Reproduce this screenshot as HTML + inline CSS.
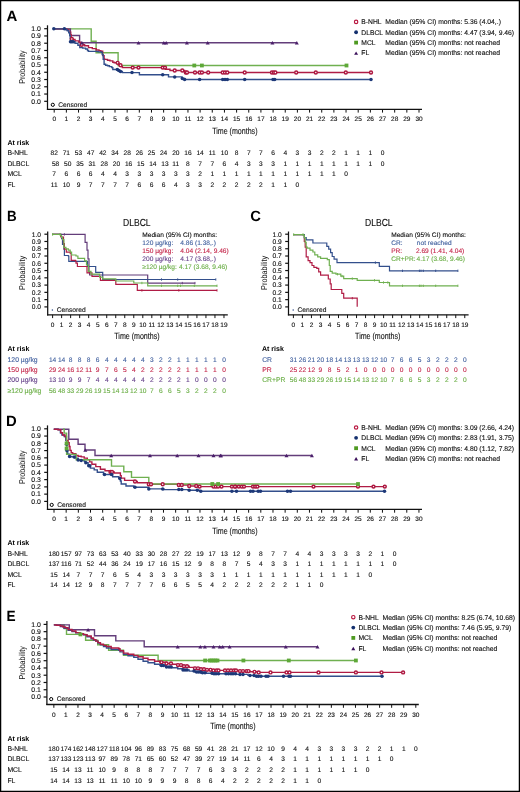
<!DOCTYPE html><html><head><meta charset="utf-8"><style>html,body{margin:0;padding:0;background:#fff;}svg{display:block;will-change:transform;}text{font-family:"Liberation Sans",sans-serif;text-rendering:geometricPrecision;}</style></head><body>
<svg width="520" height="792" viewBox="0 0 520 792">
<rect x="0" y="0" width="520" height="792" fill="#fff"/>
<g fill="#111">
<text x="6.50" y="20.90" font-size="14.8" font-weight="bold" fill="#000" textLength="10.8" lengthAdjust="spacingAndGlyphs">A</text>
<line x1="47.50" y1="25.30" x2="47.50" y2="109.90" stroke="#111" stroke-width="1.25"/>
<line x1="46.90" y1="109.30" x2="422.00" y2="109.30" stroke="#111" stroke-width="1.35"/>
<line x1="44.20" y1="101.30" x2="47.50" y2="101.30" stroke="#111" stroke-width="1.2"/>
<text x="40.90" y="103.65" font-size="6.9" text-anchor="end" stroke="#111" stroke-width="0.12">0.0</text>
<line x1="44.20" y1="94.04" x2="47.50" y2="94.04" stroke="#111" stroke-width="1.2"/>
<text x="40.90" y="96.39" font-size="6.9" text-anchor="end" stroke="#111" stroke-width="0.12">0.1</text>
<line x1="44.20" y1="86.78" x2="47.50" y2="86.78" stroke="#111" stroke-width="1.2"/>
<text x="40.90" y="89.13" font-size="6.9" text-anchor="end" stroke="#111" stroke-width="0.12">0.2</text>
<line x1="44.20" y1="79.52" x2="47.50" y2="79.52" stroke="#111" stroke-width="1.2"/>
<text x="40.90" y="81.87" font-size="6.9" text-anchor="end" stroke="#111" stroke-width="0.12">0.3</text>
<line x1="44.20" y1="72.26" x2="47.50" y2="72.26" stroke="#111" stroke-width="1.2"/>
<text x="40.90" y="74.61" font-size="6.9" text-anchor="end" stroke="#111" stroke-width="0.12">0.4</text>
<line x1="44.20" y1="65.00" x2="47.50" y2="65.00" stroke="#111" stroke-width="1.2"/>
<text x="40.90" y="67.35" font-size="6.9" text-anchor="end" stroke="#111" stroke-width="0.12">0.5</text>
<line x1="44.20" y1="57.74" x2="47.50" y2="57.74" stroke="#111" stroke-width="1.2"/>
<text x="40.90" y="60.09" font-size="6.9" text-anchor="end" stroke="#111" stroke-width="0.12">0.6</text>
<line x1="44.20" y1="50.48" x2="47.50" y2="50.48" stroke="#111" stroke-width="1.2"/>
<text x="40.90" y="52.83" font-size="6.9" text-anchor="end" stroke="#111" stroke-width="0.12">0.7</text>
<line x1="44.20" y1="43.22" x2="47.50" y2="43.22" stroke="#111" stroke-width="1.2"/>
<text x="40.90" y="45.57" font-size="6.9" text-anchor="end" stroke="#111" stroke-width="0.12">0.8</text>
<line x1="44.20" y1="35.96" x2="47.50" y2="35.96" stroke="#111" stroke-width="1.2"/>
<text x="40.90" y="38.31" font-size="6.9" text-anchor="end" stroke="#111" stroke-width="0.12">0.9</text>
<line x1="44.20" y1="28.70" x2="47.50" y2="28.70" stroke="#111" stroke-width="1.2"/>
<text x="40.90" y="31.05" font-size="6.9" text-anchor="end" stroke="#111" stroke-width="0.12">1.0</text>
<line x1="54.20" y1="109.30" x2="54.20" y2="112.60" stroke="#111" stroke-width="1.0"/>
<text x="54.20" y="121.30" font-size="6.5" text-anchor="middle" stroke="#111" stroke-width="0.12">0</text>
<line x1="66.36" y1="109.30" x2="66.36" y2="112.60" stroke="#111" stroke-width="1.0"/>
<text x="66.36" y="121.30" font-size="6.5" text-anchor="middle" stroke="#111" stroke-width="0.12">1</text>
<line x1="78.52" y1="109.30" x2="78.52" y2="112.60" stroke="#111" stroke-width="1.0"/>
<text x="78.52" y="121.30" font-size="6.5" text-anchor="middle" stroke="#111" stroke-width="0.12">2</text>
<line x1="90.68" y1="109.30" x2="90.68" y2="112.60" stroke="#111" stroke-width="1.0"/>
<text x="90.68" y="121.30" font-size="6.5" text-anchor="middle" stroke="#111" stroke-width="0.12">3</text>
<line x1="102.84" y1="109.30" x2="102.84" y2="112.60" stroke="#111" stroke-width="1.0"/>
<text x="102.84" y="121.30" font-size="6.5" text-anchor="middle" stroke="#111" stroke-width="0.12">4</text>
<line x1="115.00" y1="109.30" x2="115.00" y2="112.60" stroke="#111" stroke-width="1.0"/>
<text x="115.00" y="121.30" font-size="6.5" text-anchor="middle" stroke="#111" stroke-width="0.12">5</text>
<line x1="127.16" y1="109.30" x2="127.16" y2="112.60" stroke="#111" stroke-width="1.0"/>
<text x="127.16" y="121.30" font-size="6.5" text-anchor="middle" stroke="#111" stroke-width="0.12">6</text>
<line x1="139.32" y1="109.30" x2="139.32" y2="112.60" stroke="#111" stroke-width="1.0"/>
<text x="139.32" y="121.30" font-size="6.5" text-anchor="middle" stroke="#111" stroke-width="0.12">7</text>
<line x1="151.48" y1="109.30" x2="151.48" y2="112.60" stroke="#111" stroke-width="1.0"/>
<text x="151.48" y="121.30" font-size="6.5" text-anchor="middle" stroke="#111" stroke-width="0.12">8</text>
<line x1="163.64" y1="109.30" x2="163.64" y2="112.60" stroke="#111" stroke-width="1.0"/>
<text x="163.64" y="121.30" font-size="6.5" text-anchor="middle" stroke="#111" stroke-width="0.12">9</text>
<line x1="175.80" y1="109.30" x2="175.80" y2="112.60" stroke="#111" stroke-width="1.0"/>
<text x="175.80" y="121.30" font-size="6.5" text-anchor="middle" stroke="#111" stroke-width="0.12">10</text>
<line x1="187.96" y1="109.30" x2="187.96" y2="112.60" stroke="#111" stroke-width="1.0"/>
<text x="187.96" y="121.30" font-size="6.5" text-anchor="middle" stroke="#111" stroke-width="0.12">11</text>
<line x1="200.12" y1="109.30" x2="200.12" y2="112.60" stroke="#111" stroke-width="1.0"/>
<text x="200.12" y="121.30" font-size="6.5" text-anchor="middle" stroke="#111" stroke-width="0.12">12</text>
<line x1="212.28" y1="109.30" x2="212.28" y2="112.60" stroke="#111" stroke-width="1.0"/>
<text x="212.28" y="121.30" font-size="6.5" text-anchor="middle" stroke="#111" stroke-width="0.12">13</text>
<line x1="224.44" y1="109.30" x2="224.44" y2="112.60" stroke="#111" stroke-width="1.0"/>
<text x="224.44" y="121.30" font-size="6.5" text-anchor="middle" stroke="#111" stroke-width="0.12">14</text>
<line x1="236.60" y1="109.30" x2="236.60" y2="112.60" stroke="#111" stroke-width="1.0"/>
<text x="236.60" y="121.30" font-size="6.5" text-anchor="middle" stroke="#111" stroke-width="0.12">15</text>
<line x1="248.76" y1="109.30" x2="248.76" y2="112.60" stroke="#111" stroke-width="1.0"/>
<text x="248.76" y="121.30" font-size="6.5" text-anchor="middle" stroke="#111" stroke-width="0.12">16</text>
<line x1="260.92" y1="109.30" x2="260.92" y2="112.60" stroke="#111" stroke-width="1.0"/>
<text x="260.92" y="121.30" font-size="6.5" text-anchor="middle" stroke="#111" stroke-width="0.12">17</text>
<line x1="273.08" y1="109.30" x2="273.08" y2="112.60" stroke="#111" stroke-width="1.0"/>
<text x="273.08" y="121.30" font-size="6.5" text-anchor="middle" stroke="#111" stroke-width="0.12">18</text>
<line x1="285.24" y1="109.30" x2="285.24" y2="112.60" stroke="#111" stroke-width="1.0"/>
<text x="285.24" y="121.30" font-size="6.5" text-anchor="middle" stroke="#111" stroke-width="0.12">19</text>
<line x1="297.40" y1="109.30" x2="297.40" y2="112.60" stroke="#111" stroke-width="1.0"/>
<text x="297.40" y="121.30" font-size="6.5" text-anchor="middle" stroke="#111" stroke-width="0.12">20</text>
<line x1="309.56" y1="109.30" x2="309.56" y2="112.60" stroke="#111" stroke-width="1.0"/>
<text x="309.56" y="121.30" font-size="6.5" text-anchor="middle" stroke="#111" stroke-width="0.12">21</text>
<line x1="321.72" y1="109.30" x2="321.72" y2="112.60" stroke="#111" stroke-width="1.0"/>
<text x="321.72" y="121.30" font-size="6.5" text-anchor="middle" stroke="#111" stroke-width="0.12">22</text>
<line x1="333.88" y1="109.30" x2="333.88" y2="112.60" stroke="#111" stroke-width="1.0"/>
<text x="333.88" y="121.30" font-size="6.5" text-anchor="middle" stroke="#111" stroke-width="0.12">23</text>
<line x1="346.04" y1="109.30" x2="346.04" y2="112.60" stroke="#111" stroke-width="1.0"/>
<text x="346.04" y="121.30" font-size="6.5" text-anchor="middle" stroke="#111" stroke-width="0.12">24</text>
<line x1="358.20" y1="109.30" x2="358.20" y2="112.60" stroke="#111" stroke-width="1.0"/>
<text x="358.20" y="121.30" font-size="6.5" text-anchor="middle" stroke="#111" stroke-width="0.12">25</text>
<line x1="370.36" y1="109.30" x2="370.36" y2="112.60" stroke="#111" stroke-width="1.0"/>
<text x="370.36" y="121.30" font-size="6.5" text-anchor="middle" stroke="#111" stroke-width="0.12">26</text>
<line x1="382.52" y1="109.30" x2="382.52" y2="112.60" stroke="#111" stroke-width="1.0"/>
<text x="382.52" y="121.30" font-size="6.5" text-anchor="middle" stroke="#111" stroke-width="0.12">27</text>
<line x1="394.68" y1="109.30" x2="394.68" y2="112.60" stroke="#111" stroke-width="1.0"/>
<text x="394.68" y="121.30" font-size="6.5" text-anchor="middle" stroke="#111" stroke-width="0.12">28</text>
<line x1="406.84" y1="109.30" x2="406.84" y2="112.60" stroke="#111" stroke-width="1.0"/>
<text x="406.84" y="121.30" font-size="6.5" text-anchor="middle" stroke="#111" stroke-width="0.12">29</text>
<line x1="419.00" y1="109.30" x2="419.00" y2="112.60" stroke="#111" stroke-width="1.0"/>
<text x="419.00" y="121.30" font-size="6.5" text-anchor="middle" stroke="#111" stroke-width="0.12">30</text>
<text transform="translate(24.9,67.10) rotate(-90)" font-size="8.5" text-anchor="middle" textLength="33.4" lengthAdjust="spacingAndGlyphs">Probability</text>
<text x="212.20" y="133.60" font-size="9" stroke="#111" stroke-width="0.12" textLength="45.3" lengthAdjust="spacingAndGlyphs">Time (months)</text>
<circle cx="52.80" cy="104.80" r="1.6" fill="#fff" stroke="#000" stroke-width="1.0"/>
<text x="58.30" y="106.90" font-size="6.7" stroke="#111" stroke-width="0.12" textLength="28.8" lengthAdjust="spacingAndGlyphs">Censored</text>
<circle cx="356.10" cy="21.90" r="1.7" fill="#fff" stroke="#b8163f" stroke-width="1.15"/>
<text x="361.30" y="24.20" font-size="6.75" stroke="#111" stroke-width="0.12">B-NHL</text>
<text x="385.30" y="24.20" font-size="6.8" stroke="#111" stroke-width="0.12">Median (95% CI) months: 5.36 (4.04,.)</text>
<circle cx="356.10" cy="32.25" r="1.9" fill="#14306e"/>
<text x="361.30" y="34.55" font-size="6.75" stroke="#111" stroke-width="0.12">DLBCL</text>
<text x="385.30" y="34.55" font-size="6.8" stroke="#111" stroke-width="0.12">Median (95% CI) months: 4.47 (3.94, 9.46)</text>
<rect x="354.20" y="40.70" width="3.8" height="3.8" fill="#4f9a22"/>
<text x="361.30" y="44.90" font-size="6.75" stroke="#111" stroke-width="0.12">MCL</text>
<text x="385.30" y="44.90" font-size="6.8" stroke="#111" stroke-width="0.12">Median (95% CI) months: not reached</text>
<path d="M354.10,54.85L356.10,51.45L358.10,54.85Z" fill="#3a0f5a"/>
<text x="361.30" y="55.25" font-size="6.75" stroke="#111" stroke-width="0.12">FL</text>
<text x="385.30" y="55.25" font-size="6.8" stroke="#111" stroke-width="0.12">Median (95% CI) months: not reached</text>
<path d="M53.80,28.90H91.20V41.20H96.10V52.80H118.10V65.50H346.50" fill="none" stroke="#6fb050" stroke-width="1.4" stroke-linejoin="miter"/>
<path d="M53.80,28.90H70.40V35.50H79.60V42.80H296.80" fill="none" stroke="#633d7a" stroke-width="1.4" stroke-linejoin="miter"/>
<path d="M53.80,28.85H66.80V29.80H68.75V32.20H70.70V34.60H71.20V38.90H73.10V39.40H75.00V40.90H78.80V42.30H80.80V43.75H81.70V44.70H84.60V45.70H88.50V47.60H92.30V48.60H96.20V50.00H99.00V50.80H100.80V51.30H102.70V55.60H104.10V58.90H104.60V59.40H107.50V60.20H109.90V60.90H112.80V62.30H114.20V62.80H118.60V64.20H119.50V65.20H121.00V66.60H122.40V67.60H165.50V69.30H170.00V70.50H184.60V72.50H371.00" fill="none" stroke="#b01c45" stroke-width="1.4" stroke-linejoin="miter"/>
<path d="M53.80,28.85H65.90V29.80H67.30V30.80H68.75V32.70H69.70V35.60H70.20V38.50H70.50V41.80H75.00V43.30H77.90V45.20H79.80V47.60H82.70V48.10H85.60V49.00H87.50V50.50H88.50V51.40H98.10V51.90H101.50V52.40H102.20V54.60H103.20V59.40H104.10V64.20H105.60V65.20H107.50V65.70H109.40V66.60H111.80V67.60H112.80V69.50H118.10V70.50H120.00V71.40H122.40V72.60H139.40V74.80H168.50V76.90H182.00V78.40H184.60V79.50H371.00" fill="none" stroke="#334f8c" stroke-width="1.4" stroke-linejoin="miter"/>
<circle cx="71.80" cy="38.90" r="1.45" fill="#fff" stroke="#ad1740" stroke-width="1.45"/>
<circle cx="81.70" cy="44.70" r="1.45" fill="#fff" stroke="#ad1740" stroke-width="1.45"/>
<circle cx="117.60" cy="62.80" r="1.45" fill="#fff" stroke="#ad1740" stroke-width="1.45"/>
<circle cx="120.50" cy="65.20" r="1.45" fill="#fff" stroke="#ad1740" stroke-width="1.45"/>
<circle cx="132.70" cy="67.60" r="1.45" fill="#fff" stroke="#ad1740" stroke-width="1.45"/>
<circle cx="138.50" cy="67.60" r="1.45" fill="#fff" stroke="#ad1740" stroke-width="1.45"/>
<circle cx="162.70" cy="67.60" r="1.45" fill="#fff" stroke="#ad1740" stroke-width="1.45"/>
<circle cx="165.00" cy="67.60" r="1.45" fill="#fff" stroke="#ad1740" stroke-width="1.45"/>
<circle cx="174.70" cy="70.50" r="1.45" fill="#fff" stroke="#ad1740" stroke-width="1.45"/>
<circle cx="182.30" cy="70.50" r="1.45" fill="#fff" stroke="#ad1740" stroke-width="1.45"/>
<circle cx="185.80" cy="72.50" r="1.45" fill="#fff" stroke="#ad1740" stroke-width="1.45"/>
<circle cx="187.00" cy="72.50" r="1.45" fill="#fff" stroke="#ad1740" stroke-width="1.45"/>
<circle cx="195.00" cy="72.50" r="1.45" fill="#fff" stroke="#ad1740" stroke-width="1.45"/>
<circle cx="199.60" cy="72.50" r="1.45" fill="#fff" stroke="#ad1740" stroke-width="1.45"/>
<circle cx="201.90" cy="72.50" r="1.45" fill="#fff" stroke="#ad1740" stroke-width="1.45"/>
<circle cx="208.20" cy="72.50" r="1.45" fill="#fff" stroke="#ad1740" stroke-width="1.45"/>
<circle cx="222.70" cy="72.50" r="1.45" fill="#fff" stroke="#ad1740" stroke-width="1.45"/>
<circle cx="225.00" cy="72.50" r="1.45" fill="#fff" stroke="#ad1740" stroke-width="1.45"/>
<circle cx="227.30" cy="72.50" r="1.45" fill="#fff" stroke="#ad1740" stroke-width="1.45"/>
<circle cx="244.70" cy="72.50" r="1.45" fill="#fff" stroke="#ad1740" stroke-width="1.45"/>
<circle cx="271.90" cy="72.50" r="1.45" fill="#fff" stroke="#ad1740" stroke-width="1.45"/>
<circle cx="273.80" cy="72.50" r="1.45" fill="#fff" stroke="#ad1740" stroke-width="1.45"/>
<circle cx="275.40" cy="72.50" r="1.45" fill="#fff" stroke="#ad1740" stroke-width="1.45"/>
<circle cx="296.20" cy="72.50" r="1.45" fill="#fff" stroke="#ad1740" stroke-width="1.45"/>
<circle cx="315.80" cy="72.50" r="1.45" fill="#fff" stroke="#ad1740" stroke-width="1.45"/>
<circle cx="345.80" cy="72.50" r="1.45" fill="#fff" stroke="#ad1740" stroke-width="1.45"/>
<circle cx="371.00" cy="72.50" r="1.45" fill="#fff" stroke="#ad1740" stroke-width="1.45"/>
<circle cx="53.80" cy="28.85" r="1.75" fill="#1d3878"/>
<circle cx="64.40" cy="28.85" r="1.75" fill="#1d3878"/>
<circle cx="70.50" cy="41.80" r="1.75" fill="#1d3878"/>
<circle cx="71.80" cy="41.80" r="1.75" fill="#1d3878"/>
<circle cx="73.20" cy="41.80" r="1.75" fill="#1d3878"/>
<circle cx="117.30" cy="69.50" r="1.75" fill="#1d3878"/>
<circle cx="118.80" cy="70.50" r="1.75" fill="#1d3878"/>
<circle cx="120.50" cy="71.40" r="1.75" fill="#1d3878"/>
<circle cx="132.00" cy="72.60" r="1.75" fill="#1d3878"/>
<circle cx="162.70" cy="74.80" r="1.75" fill="#1d3878"/>
<circle cx="174.70" cy="76.90" r="1.75" fill="#1d3878"/>
<circle cx="182.30" cy="78.40" r="1.75" fill="#1d3878"/>
<circle cx="184.60" cy="79.50" r="1.75" fill="#1d3878"/>
<circle cx="199.60" cy="79.50" r="1.75" fill="#1d3878"/>
<circle cx="222.70" cy="79.50" r="1.75" fill="#1d3878"/>
<circle cx="225.00" cy="79.50" r="1.75" fill="#1d3878"/>
<circle cx="227.30" cy="79.50" r="1.75" fill="#1d3878"/>
<circle cx="244.70" cy="79.50" r="1.75" fill="#1d3878"/>
<circle cx="273.00" cy="79.50" r="1.75" fill="#1d3878"/>
<circle cx="274.70" cy="79.50" r="1.75" fill="#1d3878"/>
<circle cx="371.00" cy="79.50" r="1.75" fill="#1d3878"/>
<rect x="192.40" y="63.60" width="3.8" height="3.8" fill="#5ea838"/>
<rect x="200.00" y="63.60" width="3.8" height="3.8" fill="#5ea838"/>
<rect x="344.60" y="63.60" width="3.8" height="3.8" fill="#5ea838"/>
<path d="M79.90,44.50L81.90,41.10L83.90,44.50Z" fill="#4b1f6b"/>
<path d="M136.50,44.50L138.50,41.10L140.50,44.50Z" fill="#4b1f6b"/>
<path d="M161.80,44.50L163.80,41.10L165.80,44.50Z" fill="#4b1f6b"/>
<path d="M164.20,44.50L166.20,41.10L168.20,44.50Z" fill="#4b1f6b"/>
<path d="M184.90,44.50L186.90,41.10L188.90,44.50Z" fill="#4b1f6b"/>
<path d="M205.70,44.50L207.70,41.10L209.70,44.50Z" fill="#4b1f6b"/>
<path d="M270.40,44.50L272.40,41.10L274.40,44.50Z" fill="#4b1f6b"/>
<path d="M294.80,44.50L296.80,41.10L298.80,44.50Z" fill="#4b1f6b"/>
<text x="7.40" y="144.80" font-size="7" font-weight="bold" fill="#000">At risk</text>
<text x="7.40" y="155.35" font-size="6.8" stroke="#111" stroke-width="0.12">B-NHL</text>
<text x="54.20" y="155.35" font-size="6.6" text-anchor="middle" stroke="#111" stroke-width="0.12">82</text>
<text x="66.36" y="155.35" font-size="6.6" text-anchor="middle" stroke="#111" stroke-width="0.12">71</text>
<text x="78.52" y="155.35" font-size="6.6" text-anchor="middle" stroke="#111" stroke-width="0.12">53</text>
<text x="90.68" y="155.35" font-size="6.6" text-anchor="middle" stroke="#111" stroke-width="0.12">47</text>
<text x="102.84" y="155.35" font-size="6.6" text-anchor="middle" stroke="#111" stroke-width="0.12">42</text>
<text x="115.00" y="155.35" font-size="6.6" text-anchor="middle" stroke="#111" stroke-width="0.12">34</text>
<text x="127.16" y="155.35" font-size="6.6" text-anchor="middle" stroke="#111" stroke-width="0.12">28</text>
<text x="139.32" y="155.35" font-size="6.6" text-anchor="middle" stroke="#111" stroke-width="0.12">26</text>
<text x="151.48" y="155.35" font-size="6.6" text-anchor="middle" stroke="#111" stroke-width="0.12">25</text>
<text x="163.64" y="155.35" font-size="6.6" text-anchor="middle" stroke="#111" stroke-width="0.12">24</text>
<text x="175.80" y="155.35" font-size="6.6" text-anchor="middle" stroke="#111" stroke-width="0.12">20</text>
<text x="187.96" y="155.35" font-size="6.6" text-anchor="middle" stroke="#111" stroke-width="0.12">16</text>
<text x="200.12" y="155.35" font-size="6.6" text-anchor="middle" stroke="#111" stroke-width="0.12">14</text>
<text x="212.28" y="155.35" font-size="6.6" text-anchor="middle" stroke="#111" stroke-width="0.12">11</text>
<text x="224.44" y="155.35" font-size="6.6" text-anchor="middle" stroke="#111" stroke-width="0.12">10</text>
<text x="236.60" y="155.35" font-size="6.6" text-anchor="middle" stroke="#111" stroke-width="0.12">8</text>
<text x="248.76" y="155.35" font-size="6.6" text-anchor="middle" stroke="#111" stroke-width="0.12">7</text>
<text x="260.92" y="155.35" font-size="6.6" text-anchor="middle" stroke="#111" stroke-width="0.12">7</text>
<text x="273.08" y="155.35" font-size="6.6" text-anchor="middle" stroke="#111" stroke-width="0.12">6</text>
<text x="285.24" y="155.35" font-size="6.6" text-anchor="middle" stroke="#111" stroke-width="0.12">4</text>
<text x="297.40" y="155.35" font-size="6.6" text-anchor="middle" stroke="#111" stroke-width="0.12">3</text>
<text x="309.56" y="155.35" font-size="6.6" text-anchor="middle" stroke="#111" stroke-width="0.12">3</text>
<text x="321.72" y="155.35" font-size="6.6" text-anchor="middle" stroke="#111" stroke-width="0.12">2</text>
<text x="333.88" y="155.35" font-size="6.6" text-anchor="middle" stroke="#111" stroke-width="0.12">2</text>
<text x="346.04" y="155.35" font-size="6.6" text-anchor="middle" stroke="#111" stroke-width="0.12">1</text>
<text x="358.20" y="155.35" font-size="6.6" text-anchor="middle" stroke="#111" stroke-width="0.12">1</text>
<text x="370.36" y="155.35" font-size="6.6" text-anchor="middle" stroke="#111" stroke-width="0.12">1</text>
<text x="382.52" y="155.35" font-size="6.6" text-anchor="middle" stroke="#111" stroke-width="0.12">0</text>
<text x="7.40" y="165.70" font-size="6.8" stroke="#111" stroke-width="0.12">DLBCL</text>
<text x="55.60" y="165.70" font-size="6.6" text-anchor="middle" stroke="#111" stroke-width="0.12">58</text>
<text x="67.76" y="165.70" font-size="6.6" text-anchor="middle" stroke="#111" stroke-width="0.12">50</text>
<text x="79.92" y="165.70" font-size="6.6" text-anchor="middle" stroke="#111" stroke-width="0.12">35</text>
<text x="92.08" y="165.70" font-size="6.6" text-anchor="middle" stroke="#111" stroke-width="0.12">31</text>
<text x="104.24" y="165.70" font-size="6.6" text-anchor="middle" stroke="#111" stroke-width="0.12">28</text>
<text x="116.40" y="165.70" font-size="6.6" text-anchor="middle" stroke="#111" stroke-width="0.12">20</text>
<text x="128.56" y="165.70" font-size="6.6" text-anchor="middle" stroke="#111" stroke-width="0.12">16</text>
<text x="140.72" y="165.70" font-size="6.6" text-anchor="middle" stroke="#111" stroke-width="0.12">15</text>
<text x="152.88" y="165.70" font-size="6.6" text-anchor="middle" stroke="#111" stroke-width="0.12">14</text>
<text x="165.04" y="165.70" font-size="6.6" text-anchor="middle" stroke="#111" stroke-width="0.12">13</text>
<text x="175.80" y="165.70" font-size="6.6" text-anchor="middle" stroke="#111" stroke-width="0.12">11</text>
<text x="187.96" y="165.70" font-size="6.6" text-anchor="middle" stroke="#111" stroke-width="0.12">8</text>
<text x="200.12" y="165.70" font-size="6.6" text-anchor="middle" stroke="#111" stroke-width="0.12">7</text>
<text x="212.28" y="165.70" font-size="6.6" text-anchor="middle" stroke="#111" stroke-width="0.12">7</text>
<text x="224.44" y="165.70" font-size="6.6" text-anchor="middle" stroke="#111" stroke-width="0.12">6</text>
<text x="236.60" y="165.70" font-size="6.6" text-anchor="middle" stroke="#111" stroke-width="0.12">4</text>
<text x="248.76" y="165.70" font-size="6.6" text-anchor="middle" stroke="#111" stroke-width="0.12">3</text>
<text x="260.92" y="165.70" font-size="6.6" text-anchor="middle" stroke="#111" stroke-width="0.12">3</text>
<text x="273.08" y="165.70" font-size="6.6" text-anchor="middle" stroke="#111" stroke-width="0.12">3</text>
<text x="285.24" y="165.70" font-size="6.6" text-anchor="middle" stroke="#111" stroke-width="0.12">1</text>
<text x="297.40" y="165.70" font-size="6.6" text-anchor="middle" stroke="#111" stroke-width="0.12">1</text>
<text x="309.56" y="165.70" font-size="6.6" text-anchor="middle" stroke="#111" stroke-width="0.12">1</text>
<text x="321.72" y="165.70" font-size="6.6" text-anchor="middle" stroke="#111" stroke-width="0.12">1</text>
<text x="333.88" y="165.70" font-size="6.6" text-anchor="middle" stroke="#111" stroke-width="0.12">1</text>
<text x="346.04" y="165.70" font-size="6.6" text-anchor="middle" stroke="#111" stroke-width="0.12">1</text>
<text x="358.20" y="165.70" font-size="6.6" text-anchor="middle" stroke="#111" stroke-width="0.12">1</text>
<text x="370.36" y="165.70" font-size="6.6" text-anchor="middle" stroke="#111" stroke-width="0.12">1</text>
<text x="382.52" y="165.70" font-size="6.6" text-anchor="middle" stroke="#111" stroke-width="0.12">0</text>
<text x="7.40" y="176.20" font-size="6.8" stroke="#111" stroke-width="0.12">MCL</text>
<text x="54.20" y="176.20" font-size="6.6" text-anchor="middle" stroke="#111" stroke-width="0.12">7</text>
<text x="66.36" y="176.20" font-size="6.6" text-anchor="middle" stroke="#111" stroke-width="0.12">6</text>
<text x="78.52" y="176.20" font-size="6.6" text-anchor="middle" stroke="#111" stroke-width="0.12">6</text>
<text x="90.68" y="176.20" font-size="6.6" text-anchor="middle" stroke="#111" stroke-width="0.12">6</text>
<text x="102.84" y="176.20" font-size="6.6" text-anchor="middle" stroke="#111" stroke-width="0.12">4</text>
<text x="115.00" y="176.20" font-size="6.6" text-anchor="middle" stroke="#111" stroke-width="0.12">4</text>
<text x="127.16" y="176.20" font-size="6.6" text-anchor="middle" stroke="#111" stroke-width="0.12">3</text>
<text x="139.32" y="176.20" font-size="6.6" text-anchor="middle" stroke="#111" stroke-width="0.12">3</text>
<text x="151.48" y="176.20" font-size="6.6" text-anchor="middle" stroke="#111" stroke-width="0.12">3</text>
<text x="163.64" y="176.20" font-size="6.6" text-anchor="middle" stroke="#111" stroke-width="0.12">3</text>
<text x="175.80" y="176.20" font-size="6.6" text-anchor="middle" stroke="#111" stroke-width="0.12">3</text>
<text x="187.96" y="176.20" font-size="6.6" text-anchor="middle" stroke="#111" stroke-width="0.12">3</text>
<text x="200.12" y="176.20" font-size="6.6" text-anchor="middle" stroke="#111" stroke-width="0.12">2</text>
<text x="212.28" y="176.20" font-size="6.6" text-anchor="middle" stroke="#111" stroke-width="0.12">1</text>
<text x="224.44" y="176.20" font-size="6.6" text-anchor="middle" stroke="#111" stroke-width="0.12">1</text>
<text x="236.60" y="176.20" font-size="6.6" text-anchor="middle" stroke="#111" stroke-width="0.12">1</text>
<text x="248.76" y="176.20" font-size="6.6" text-anchor="middle" stroke="#111" stroke-width="0.12">1</text>
<text x="260.92" y="176.20" font-size="6.6" text-anchor="middle" stroke="#111" stroke-width="0.12">1</text>
<text x="273.08" y="176.20" font-size="6.6" text-anchor="middle" stroke="#111" stroke-width="0.12">1</text>
<text x="285.24" y="176.20" font-size="6.6" text-anchor="middle" stroke="#111" stroke-width="0.12">1</text>
<text x="297.40" y="176.20" font-size="6.6" text-anchor="middle" stroke="#111" stroke-width="0.12">1</text>
<text x="309.56" y="176.20" font-size="6.6" text-anchor="middle" stroke="#111" stroke-width="0.12">1</text>
<text x="321.72" y="176.20" font-size="6.6" text-anchor="middle" stroke="#111" stroke-width="0.12">1</text>
<text x="333.88" y="176.20" font-size="6.6" text-anchor="middle" stroke="#111" stroke-width="0.12">1</text>
<text x="346.04" y="176.20" font-size="6.6" text-anchor="middle" stroke="#111" stroke-width="0.12">0</text>
<text x="7.40" y="186.80" font-size="6.8" stroke="#111" stroke-width="0.12">FL</text>
<text x="54.20" y="186.80" font-size="6.6" text-anchor="middle" stroke="#111" stroke-width="0.12">11</text>
<text x="66.36" y="186.80" font-size="6.6" text-anchor="middle" stroke="#111" stroke-width="0.12">10</text>
<text x="78.52" y="186.80" font-size="6.6" text-anchor="middle" stroke="#111" stroke-width="0.12">9</text>
<text x="90.68" y="186.80" font-size="6.6" text-anchor="middle" stroke="#111" stroke-width="0.12">7</text>
<text x="102.84" y="186.80" font-size="6.6" text-anchor="middle" stroke="#111" stroke-width="0.12">7</text>
<text x="115.00" y="186.80" font-size="6.6" text-anchor="middle" stroke="#111" stroke-width="0.12">7</text>
<text x="127.16" y="186.80" font-size="6.6" text-anchor="middle" stroke="#111" stroke-width="0.12">7</text>
<text x="139.32" y="186.80" font-size="6.6" text-anchor="middle" stroke="#111" stroke-width="0.12">6</text>
<text x="151.48" y="186.80" font-size="6.6" text-anchor="middle" stroke="#111" stroke-width="0.12">6</text>
<text x="163.64" y="186.80" font-size="6.6" text-anchor="middle" stroke="#111" stroke-width="0.12">6</text>
<text x="175.80" y="186.80" font-size="6.6" text-anchor="middle" stroke="#111" stroke-width="0.12">4</text>
<text x="187.96" y="186.80" font-size="6.6" text-anchor="middle" stroke="#111" stroke-width="0.12">3</text>
<text x="200.12" y="186.80" font-size="6.6" text-anchor="middle" stroke="#111" stroke-width="0.12">3</text>
<text x="212.28" y="186.80" font-size="6.6" text-anchor="middle" stroke="#111" stroke-width="0.12">2</text>
<text x="224.44" y="186.80" font-size="6.6" text-anchor="middle" stroke="#111" stroke-width="0.12">2</text>
<text x="236.60" y="186.80" font-size="6.6" text-anchor="middle" stroke="#111" stroke-width="0.12">2</text>
<text x="248.76" y="186.80" font-size="6.6" text-anchor="middle" stroke="#111" stroke-width="0.12">2</text>
<text x="260.92" y="186.80" font-size="6.6" text-anchor="middle" stroke="#111" stroke-width="0.12">2</text>
<text x="273.08" y="186.80" font-size="6.6" text-anchor="middle" stroke="#111" stroke-width="0.12">1</text>
<text x="285.24" y="186.80" font-size="6.6" text-anchor="middle" stroke="#111" stroke-width="0.12">1</text>
<text x="297.40" y="186.80" font-size="6.6" text-anchor="middle" stroke="#111" stroke-width="0.12">0</text>
<text x="7.00" y="220.90" font-size="14.8" font-weight="bold" fill="#000" textLength="9.7" lengthAdjust="spacingAndGlyphs">B</text>
<text x="123.00" y="225.70" font-size="10.2" stroke="#111" stroke-width="0.12" textLength="27.6" lengthAdjust="spacingAndGlyphs">DLBCL</text>
<line x1="47.70" y1="231.50" x2="47.70" y2="315.40" stroke="#111" stroke-width="1.25"/>
<line x1="47.10" y1="314.80" x2="227.80" y2="314.80" stroke="#111" stroke-width="1.35"/>
<line x1="44.40" y1="306.90" x2="47.70" y2="306.90" stroke="#111" stroke-width="1.2"/>
<text x="41.00" y="309.25" font-size="6.7" text-anchor="end" stroke="#111" stroke-width="0.12">0.0</text>
<line x1="44.40" y1="299.63" x2="47.70" y2="299.63" stroke="#111" stroke-width="1.2"/>
<text x="41.00" y="301.98" font-size="6.7" text-anchor="end" stroke="#111" stroke-width="0.12">0.1</text>
<line x1="44.40" y1="292.36" x2="47.70" y2="292.36" stroke="#111" stroke-width="1.2"/>
<text x="41.00" y="294.71" font-size="6.7" text-anchor="end" stroke="#111" stroke-width="0.12">0.2</text>
<line x1="44.40" y1="285.09" x2="47.70" y2="285.09" stroke="#111" stroke-width="1.2"/>
<text x="41.00" y="287.44" font-size="6.7" text-anchor="end" stroke="#111" stroke-width="0.12">0.3</text>
<line x1="44.40" y1="277.82" x2="47.70" y2="277.82" stroke="#111" stroke-width="1.2"/>
<text x="41.00" y="280.17" font-size="6.7" text-anchor="end" stroke="#111" stroke-width="0.12">0.4</text>
<line x1="44.40" y1="270.55" x2="47.70" y2="270.55" stroke="#111" stroke-width="1.2"/>
<text x="41.00" y="272.90" font-size="6.7" text-anchor="end" stroke="#111" stroke-width="0.12">0.5</text>
<line x1="44.40" y1="263.28" x2="47.70" y2="263.28" stroke="#111" stroke-width="1.2"/>
<text x="41.00" y="265.63" font-size="6.7" text-anchor="end" stroke="#111" stroke-width="0.12">0.6</text>
<line x1="44.40" y1="256.01" x2="47.70" y2="256.01" stroke="#111" stroke-width="1.2"/>
<text x="41.00" y="258.36" font-size="6.7" text-anchor="end" stroke="#111" stroke-width="0.12">0.7</text>
<line x1="44.40" y1="248.74" x2="47.70" y2="248.74" stroke="#111" stroke-width="1.2"/>
<text x="41.00" y="251.09" font-size="6.7" text-anchor="end" stroke="#111" stroke-width="0.12">0.8</text>
<line x1="44.40" y1="241.47" x2="47.70" y2="241.47" stroke="#111" stroke-width="1.2"/>
<text x="41.00" y="243.82" font-size="6.7" text-anchor="end" stroke="#111" stroke-width="0.12">0.9</text>
<line x1="44.40" y1="234.20" x2="47.70" y2="234.20" stroke="#111" stroke-width="1.2"/>
<text x="41.00" y="236.55" font-size="6.7" text-anchor="end" stroke="#111" stroke-width="0.12">1.0</text>
<line x1="52.60" y1="314.80" x2="52.60" y2="318.10" stroke="#111" stroke-width="1.0"/>
<text x="52.60" y="326.90" font-size="6.5" text-anchor="middle" stroke="#111" stroke-width="0.12">0</text>
<line x1="61.62" y1="314.80" x2="61.62" y2="318.10" stroke="#111" stroke-width="1.0"/>
<text x="61.62" y="326.90" font-size="6.5" text-anchor="middle" stroke="#111" stroke-width="0.12">1</text>
<line x1="70.64" y1="314.80" x2="70.64" y2="318.10" stroke="#111" stroke-width="1.0"/>
<text x="70.64" y="326.90" font-size="6.5" text-anchor="middle" stroke="#111" stroke-width="0.12">2</text>
<line x1="79.66" y1="314.80" x2="79.66" y2="318.10" stroke="#111" stroke-width="1.0"/>
<text x="79.66" y="326.90" font-size="6.5" text-anchor="middle" stroke="#111" stroke-width="0.12">3</text>
<line x1="88.68" y1="314.80" x2="88.68" y2="318.10" stroke="#111" stroke-width="1.0"/>
<text x="88.68" y="326.90" font-size="6.5" text-anchor="middle" stroke="#111" stroke-width="0.12">4</text>
<line x1="97.70" y1="314.80" x2="97.70" y2="318.10" stroke="#111" stroke-width="1.0"/>
<text x="97.70" y="326.90" font-size="6.5" text-anchor="middle" stroke="#111" stroke-width="0.12">5</text>
<line x1="106.72" y1="314.80" x2="106.72" y2="318.10" stroke="#111" stroke-width="1.0"/>
<text x="106.72" y="326.90" font-size="6.5" text-anchor="middle" stroke="#111" stroke-width="0.12">6</text>
<line x1="115.74" y1="314.80" x2="115.74" y2="318.10" stroke="#111" stroke-width="1.0"/>
<text x="115.74" y="326.90" font-size="6.5" text-anchor="middle" stroke="#111" stroke-width="0.12">7</text>
<line x1="124.76" y1="314.80" x2="124.76" y2="318.10" stroke="#111" stroke-width="1.0"/>
<text x="124.76" y="326.90" font-size="6.5" text-anchor="middle" stroke="#111" stroke-width="0.12">8</text>
<line x1="133.78" y1="314.80" x2="133.78" y2="318.10" stroke="#111" stroke-width="1.0"/>
<text x="133.78" y="326.90" font-size="6.5" text-anchor="middle" stroke="#111" stroke-width="0.12">9</text>
<line x1="142.80" y1="314.80" x2="142.80" y2="318.10" stroke="#111" stroke-width="1.0"/>
<text x="142.80" y="326.90" font-size="6.5" text-anchor="middle" stroke="#111" stroke-width="0.12">10</text>
<line x1="151.82" y1="314.80" x2="151.82" y2="318.10" stroke="#111" stroke-width="1.0"/>
<text x="151.82" y="326.90" font-size="6.5" text-anchor="middle" stroke="#111" stroke-width="0.12">11</text>
<line x1="160.84" y1="314.80" x2="160.84" y2="318.10" stroke="#111" stroke-width="1.0"/>
<text x="160.84" y="326.90" font-size="6.5" text-anchor="middle" stroke="#111" stroke-width="0.12">12</text>
<line x1="169.86" y1="314.80" x2="169.86" y2="318.10" stroke="#111" stroke-width="1.0"/>
<text x="169.86" y="326.90" font-size="6.5" text-anchor="middle" stroke="#111" stroke-width="0.12">13</text>
<line x1="178.88" y1="314.80" x2="178.88" y2="318.10" stroke="#111" stroke-width="1.0"/>
<text x="178.88" y="326.90" font-size="6.5" text-anchor="middle" stroke="#111" stroke-width="0.12">14</text>
<line x1="187.90" y1="314.80" x2="187.90" y2="318.10" stroke="#111" stroke-width="1.0"/>
<text x="187.90" y="326.90" font-size="6.5" text-anchor="middle" stroke="#111" stroke-width="0.12">15</text>
<line x1="196.92" y1="314.80" x2="196.92" y2="318.10" stroke="#111" stroke-width="1.0"/>
<text x="196.92" y="326.90" font-size="6.5" text-anchor="middle" stroke="#111" stroke-width="0.12">16</text>
<line x1="205.94" y1="314.80" x2="205.94" y2="318.10" stroke="#111" stroke-width="1.0"/>
<text x="205.94" y="326.90" font-size="6.5" text-anchor="middle" stroke="#111" stroke-width="0.12">17</text>
<line x1="214.96" y1="314.80" x2="214.96" y2="318.10" stroke="#111" stroke-width="1.0"/>
<text x="214.96" y="326.90" font-size="6.5" text-anchor="middle" stroke="#111" stroke-width="0.12">18</text>
<line x1="223.98" y1="314.80" x2="223.98" y2="318.10" stroke="#111" stroke-width="1.0"/>
<text x="223.98" y="326.90" font-size="6.5" text-anchor="middle" stroke="#111" stroke-width="0.12">19</text>
<text transform="translate(24.90,272.9) rotate(-90)" font-size="8.5" text-anchor="middle" textLength="34" lengthAdjust="spacingAndGlyphs">Probability</text>
<text x="114.30" y="339.30" font-size="9" stroke="#111" stroke-width="0.12" textLength="45.3" lengthAdjust="spacingAndGlyphs">Time (months)</text>
<circle cx="52.40" cy="310.10" r="0.75" fill="#334f8c"/>
<text x="56.70" y="311.70" font-size="6.7" stroke="#111" stroke-width="0.12" textLength="28.9" lengthAdjust="spacingAndGlyphs">Censored</text>
<text x="142.30" y="236.50" font-size="6.6" stroke="#111" stroke-width="0.12">Median (95% CI) months:</text>
<text x="142.30" y="244.90" font-size="6.6" fill="#42619f" stroke="#42619f" stroke-width="0.12">120 µg/kg:</text>
<text x="180.30" y="244.90" font-size="6.6" fill="#42619f" stroke="#42619f" stroke-width="0.12">4.86 (1.38,.)</text>
<text x="142.30" y="253.10" font-size="6.6" fill="#c4264a" stroke="#c4264a" stroke-width="0.12">150 µg/kg:</text>
<text x="180.30" y="253.10" font-size="6.6" fill="#c4264a" stroke="#c4264a" stroke-width="0.12">4.04 (2.14, 9.46)</text>
<text x="142.30" y="261.20" font-size="6.6" fill="#66428a" stroke="#66428a" stroke-width="0.12">200 µg/kg:</text>
<text x="180.30" y="261.20" font-size="6.6" fill="#66428a" stroke="#66428a" stroke-width="0.12">4.17 (3.68,.)</text>
<text x="142.30" y="269.30" font-size="6.6" fill="#6aae45" stroke="#6aae45" stroke-width="0.12">≥120 µg/kg:</text>
<text x="178.90" y="269.30" font-size="6.6" fill="#6aae45" stroke="#6aae45" stroke-width="0.12">4.17 (3.68, 9.46)</text>
<path d="M52.60,234.40H85.10V242.30H87.00V250.20H88.00V258.80H89.00V272.30H89.60V275.00H147.70V283.10H195.00" fill="none" stroke="#633d7a" stroke-width="1.2" stroke-linejoin="miter"/>
<path d="M52.60,234.40H61.10V236.50H61.60V238.70H62.50V244.40H63.90V249.20H64.40V255.50H68.30V256.00H68.80V261.30H87.50V266.50H95.70V272.30H102.70V279.50H215.80" fill="none" stroke="#334f8c" stroke-width="1.2" stroke-linejoin="miter"/>
<path d="M52.60,234.40H60.60V236.00H61.10V237.20H63.50V243.50H64.40V249.20H66.30V252.10H70.20V253.10H71.20V260.30H75.50V261.00H76.00V263.20H77.40V266.50H87.00V272.80H92.00V276.50H100.40V280.30H115.80V284.40H137.30V290.40H217.00" fill="none" stroke="#b01c45" stroke-width="1.2" stroke-linejoin="miter"/>
<path d="M52.60,234.40H60.60V235.50H61.50V237.50H62.50V239.60H63.90V247.30H65.90V248.80H68.30V250.20H70.20V252.10H71.60V255.00H76.00V256.00H77.90V258.40H84.60V260.80H86.50V265.00H88.50V271.30H91.00V274.20H99.60V277.20H102.70V278.80H115.80V281.00H133.80V283.00H147.70V285.80H217.00" fill="none" stroke="#6fb050" stroke-width="1.2" stroke-linejoin="miter"/>
<line x1="64.40" y1="233.20" x2="64.40" y2="235.60" stroke="#633d7a" stroke-width="0.9"/>
<line x1="182.30" y1="281.90" x2="182.30" y2="284.30" stroke="#633d7a" stroke-width="0.9"/>
<line x1="195.00" y1="281.90" x2="195.00" y2="284.30" stroke="#633d7a" stroke-width="0.9"/>
<line x1="161.50" y1="278.30" x2="161.50" y2="280.70" stroke="#334f8c" stroke-width="0.9"/>
<line x1="177.70" y1="278.30" x2="177.70" y2="280.70" stroke="#334f8c" stroke-width="0.9"/>
<line x1="215.80" y1="278.30" x2="215.80" y2="280.70" stroke="#334f8c" stroke-width="0.9"/>
<line x1="141.90" y1="281.80" x2="141.90" y2="284.20" stroke="#6fb050" stroke-width="0.9"/>
<line x1="161.50" y1="284.60" x2="161.50" y2="287.00" stroke="#6fb050" stroke-width="0.9"/>
<line x1="177.70" y1="284.60" x2="177.70" y2="287.00" stroke="#6fb050" stroke-width="0.9"/>
<line x1="180.50" y1="284.60" x2="180.50" y2="287.00" stroke="#6fb050" stroke-width="0.9"/>
<line x1="194.30" y1="284.60" x2="194.30" y2="287.00" stroke="#6fb050" stroke-width="0.9"/>
<line x1="217.00" y1="284.60" x2="217.00" y2="287.00" stroke="#6fb050" stroke-width="0.9"/>
<line x1="141.90" y1="289.20" x2="141.90" y2="291.60" stroke="#b01c45" stroke-width="0.9"/>
<line x1="178.80" y1="289.20" x2="178.80" y2="291.60" stroke="#b01c45" stroke-width="0.9"/>
<line x1="217.00" y1="289.20" x2="217.00" y2="291.60" stroke="#b01c45" stroke-width="0.9"/>
<line x1="52.60" y1="233.10" x2="52.60" y2="235.70" stroke="#6fb050" stroke-width="1.0"/>
<line x1="60.00" y1="233.10" x2="60.00" y2="235.70" stroke="#6fb050" stroke-width="1.0"/>
<text x="7.50" y="351.00" font-size="7" font-weight="bold" fill="#000">At risk</text>
<text x="7.60" y="361.90" font-size="6.8" fill="#42619f" stroke="#42619f" stroke-width="0.12">120 µg/kg</text>
<text x="52.60" y="361.90" font-size="6.6" text-anchor="middle" fill="#42619f" stroke="#42619f" stroke-width="0.12">14</text>
<text x="61.62" y="361.90" font-size="6.6" text-anchor="middle" fill="#42619f" stroke="#42619f" stroke-width="0.12">14</text>
<text x="70.64" y="361.90" font-size="6.6" text-anchor="middle" fill="#42619f" stroke="#42619f" stroke-width="0.12">8</text>
<text x="79.66" y="361.90" font-size="6.6" text-anchor="middle" fill="#42619f" stroke="#42619f" stroke-width="0.12">8</text>
<text x="88.68" y="361.90" font-size="6.6" text-anchor="middle" fill="#42619f" stroke="#42619f" stroke-width="0.12">8</text>
<text x="97.70" y="361.90" font-size="6.6" text-anchor="middle" fill="#42619f" stroke="#42619f" stroke-width="0.12">6</text>
<text x="106.72" y="361.90" font-size="6.6" text-anchor="middle" fill="#42619f" stroke="#42619f" stroke-width="0.12">4</text>
<text x="115.74" y="361.90" font-size="6.6" text-anchor="middle" fill="#42619f" stroke="#42619f" stroke-width="0.12">4</text>
<text x="124.76" y="361.90" font-size="6.6" text-anchor="middle" fill="#42619f" stroke="#42619f" stroke-width="0.12">4</text>
<text x="133.78" y="361.90" font-size="6.6" text-anchor="middle" fill="#42619f" stroke="#42619f" stroke-width="0.12">4</text>
<text x="142.80" y="361.90" font-size="6.6" text-anchor="middle" fill="#42619f" stroke="#42619f" stroke-width="0.12">4</text>
<text x="151.82" y="361.90" font-size="6.6" text-anchor="middle" fill="#42619f" stroke="#42619f" stroke-width="0.12">3</text>
<text x="160.84" y="361.90" font-size="6.6" text-anchor="middle" fill="#42619f" stroke="#42619f" stroke-width="0.12">2</text>
<text x="169.86" y="361.90" font-size="6.6" text-anchor="middle" fill="#42619f" stroke="#42619f" stroke-width="0.12">2</text>
<text x="178.88" y="361.90" font-size="6.6" text-anchor="middle" fill="#42619f" stroke="#42619f" stroke-width="0.12">1</text>
<text x="187.90" y="361.90" font-size="6.6" text-anchor="middle" fill="#42619f" stroke="#42619f" stroke-width="0.12">1</text>
<text x="196.92" y="361.90" font-size="6.6" text-anchor="middle" fill="#42619f" stroke="#42619f" stroke-width="0.12">1</text>
<text x="205.94" y="361.90" font-size="6.6" text-anchor="middle" fill="#42619f" stroke="#42619f" stroke-width="0.12">1</text>
<text x="214.96" y="361.90" font-size="6.6" text-anchor="middle" fill="#42619f" stroke="#42619f" stroke-width="0.12">1</text>
<text x="223.98" y="361.90" font-size="6.6" text-anchor="middle" fill="#42619f" stroke="#42619f" stroke-width="0.12">0</text>
<text x="7.60" y="372.10" font-size="6.8" fill="#c4264a" stroke="#c4264a" stroke-width="0.12">150 µg/kg</text>
<text x="52.60" y="372.10" font-size="6.6" text-anchor="middle" fill="#c4264a" stroke="#c4264a" stroke-width="0.12">29</text>
<text x="61.62" y="372.10" font-size="6.6" text-anchor="middle" fill="#c4264a" stroke="#c4264a" stroke-width="0.12">24</text>
<text x="70.64" y="372.10" font-size="6.6" text-anchor="middle" fill="#c4264a" stroke="#c4264a" stroke-width="0.12">16</text>
<text x="79.66" y="372.10" font-size="6.6" text-anchor="middle" fill="#c4264a" stroke="#c4264a" stroke-width="0.12">12</text>
<text x="88.68" y="372.10" font-size="6.6" text-anchor="middle" fill="#c4264a" stroke="#c4264a" stroke-width="0.12">11</text>
<text x="97.70" y="372.10" font-size="6.6" text-anchor="middle" fill="#c4264a" stroke="#c4264a" stroke-width="0.12">9</text>
<text x="106.72" y="372.10" font-size="6.6" text-anchor="middle" fill="#c4264a" stroke="#c4264a" stroke-width="0.12">7</text>
<text x="115.74" y="372.10" font-size="6.6" text-anchor="middle" fill="#c4264a" stroke="#c4264a" stroke-width="0.12">6</text>
<text x="124.76" y="372.10" font-size="6.6" text-anchor="middle" fill="#c4264a" stroke="#c4264a" stroke-width="0.12">5</text>
<text x="133.78" y="372.10" font-size="6.6" text-anchor="middle" fill="#c4264a" stroke="#c4264a" stroke-width="0.12">4</text>
<text x="142.80" y="372.10" font-size="6.6" text-anchor="middle" fill="#c4264a" stroke="#c4264a" stroke-width="0.12">2</text>
<text x="151.82" y="372.10" font-size="6.6" text-anchor="middle" fill="#c4264a" stroke="#c4264a" stroke-width="0.12">2</text>
<text x="160.84" y="372.10" font-size="6.6" text-anchor="middle" fill="#c4264a" stroke="#c4264a" stroke-width="0.12">2</text>
<text x="169.86" y="372.10" font-size="6.6" text-anchor="middle" fill="#c4264a" stroke="#c4264a" stroke-width="0.12">2</text>
<text x="178.88" y="372.10" font-size="6.6" text-anchor="middle" fill="#c4264a" stroke="#c4264a" stroke-width="0.12">2</text>
<text x="187.90" y="372.10" font-size="6.6" text-anchor="middle" fill="#c4264a" stroke="#c4264a" stroke-width="0.12">1</text>
<text x="196.92" y="372.10" font-size="6.6" text-anchor="middle" fill="#c4264a" stroke="#c4264a" stroke-width="0.12">1</text>
<text x="205.94" y="372.10" font-size="6.6" text-anchor="middle" fill="#c4264a" stroke="#c4264a" stroke-width="0.12">1</text>
<text x="214.96" y="372.10" font-size="6.6" text-anchor="middle" fill="#c4264a" stroke="#c4264a" stroke-width="0.12">1</text>
<text x="223.98" y="372.10" font-size="6.6" text-anchor="middle" fill="#c4264a" stroke="#c4264a" stroke-width="0.12">0</text>
<text x="7.60" y="382.40" font-size="6.8" fill="#66428a" stroke="#66428a" stroke-width="0.12">200 µg/kg</text>
<text x="52.60" y="382.40" font-size="6.6" text-anchor="middle" fill="#66428a" stroke="#66428a" stroke-width="0.12">13</text>
<text x="61.62" y="382.40" font-size="6.6" text-anchor="middle" fill="#66428a" stroke="#66428a" stroke-width="0.12">10</text>
<text x="70.64" y="382.40" font-size="6.6" text-anchor="middle" fill="#66428a" stroke="#66428a" stroke-width="0.12">9</text>
<text x="79.66" y="382.40" font-size="6.6" text-anchor="middle" fill="#66428a" stroke="#66428a" stroke-width="0.12">9</text>
<text x="88.68" y="382.40" font-size="6.6" text-anchor="middle" fill="#66428a" stroke="#66428a" stroke-width="0.12">7</text>
<text x="97.70" y="382.40" font-size="6.6" text-anchor="middle" fill="#66428a" stroke="#66428a" stroke-width="0.12">4</text>
<text x="106.72" y="382.40" font-size="6.6" text-anchor="middle" fill="#66428a" stroke="#66428a" stroke-width="0.12">4</text>
<text x="115.74" y="382.40" font-size="6.6" text-anchor="middle" fill="#66428a" stroke="#66428a" stroke-width="0.12">4</text>
<text x="124.76" y="382.40" font-size="6.6" text-anchor="middle" fill="#66428a" stroke="#66428a" stroke-width="0.12">4</text>
<text x="133.78" y="382.40" font-size="6.6" text-anchor="middle" fill="#66428a" stroke="#66428a" stroke-width="0.12">4</text>
<text x="142.80" y="382.40" font-size="6.6" text-anchor="middle" fill="#66428a" stroke="#66428a" stroke-width="0.12">4</text>
<text x="151.82" y="382.40" font-size="6.6" text-anchor="middle" fill="#66428a" stroke="#66428a" stroke-width="0.12">2</text>
<text x="160.84" y="382.40" font-size="6.6" text-anchor="middle" fill="#66428a" stroke="#66428a" stroke-width="0.12">2</text>
<text x="169.86" y="382.40" font-size="6.6" text-anchor="middle" fill="#66428a" stroke="#66428a" stroke-width="0.12">2</text>
<text x="178.88" y="382.40" font-size="6.6" text-anchor="middle" fill="#66428a" stroke="#66428a" stroke-width="0.12">2</text>
<text x="187.90" y="382.40" font-size="6.6" text-anchor="middle" fill="#66428a" stroke="#66428a" stroke-width="0.12">1</text>
<text x="196.92" y="382.40" font-size="6.6" text-anchor="middle" fill="#66428a" stroke="#66428a" stroke-width="0.12">0</text>
<text x="205.94" y="382.40" font-size="6.6" text-anchor="middle" fill="#66428a" stroke="#66428a" stroke-width="0.12">0</text>
<text x="214.96" y="382.40" font-size="6.6" text-anchor="middle" fill="#66428a" stroke="#66428a" stroke-width="0.12">0</text>
<text x="223.98" y="382.40" font-size="6.6" text-anchor="middle" fill="#66428a" stroke="#66428a" stroke-width="0.12">0</text>
<text x="7.60" y="392.80" font-size="6.8" fill="#6aae45" stroke="#6aae45" stroke-width="0.12">≥120 µg/kg</text>
<text x="52.60" y="392.80" font-size="6.6" text-anchor="middle" fill="#6aae45" stroke="#6aae45" stroke-width="0.12">56</text>
<text x="61.62" y="392.80" font-size="6.6" text-anchor="middle" fill="#6aae45" stroke="#6aae45" stroke-width="0.12">48</text>
<text x="70.64" y="392.80" font-size="6.6" text-anchor="middle" fill="#6aae45" stroke="#6aae45" stroke-width="0.12">33</text>
<text x="79.66" y="392.80" font-size="6.6" text-anchor="middle" fill="#6aae45" stroke="#6aae45" stroke-width="0.12">29</text>
<text x="88.68" y="392.80" font-size="6.6" text-anchor="middle" fill="#6aae45" stroke="#6aae45" stroke-width="0.12">26</text>
<text x="97.70" y="392.80" font-size="6.6" text-anchor="middle" fill="#6aae45" stroke="#6aae45" stroke-width="0.12">19</text>
<text x="106.72" y="392.80" font-size="6.6" text-anchor="middle" fill="#6aae45" stroke="#6aae45" stroke-width="0.12">15</text>
<text x="115.74" y="392.80" font-size="6.6" text-anchor="middle" fill="#6aae45" stroke="#6aae45" stroke-width="0.12">14</text>
<text x="124.76" y="392.80" font-size="6.6" text-anchor="middle" fill="#6aae45" stroke="#6aae45" stroke-width="0.12">13</text>
<text x="133.78" y="392.80" font-size="6.6" text-anchor="middle" fill="#6aae45" stroke="#6aae45" stroke-width="0.12">12</text>
<text x="142.80" y="392.80" font-size="6.6" text-anchor="middle" fill="#6aae45" stroke="#6aae45" stroke-width="0.12">10</text>
<text x="151.82" y="392.80" font-size="6.6" text-anchor="middle" fill="#6aae45" stroke="#6aae45" stroke-width="0.12">7</text>
<text x="160.84" y="392.80" font-size="6.6" text-anchor="middle" fill="#6aae45" stroke="#6aae45" stroke-width="0.12">6</text>
<text x="169.86" y="392.80" font-size="6.6" text-anchor="middle" fill="#6aae45" stroke="#6aae45" stroke-width="0.12">6</text>
<text x="178.88" y="392.80" font-size="6.6" text-anchor="middle" fill="#6aae45" stroke="#6aae45" stroke-width="0.12">5</text>
<text x="187.90" y="392.80" font-size="6.6" text-anchor="middle" fill="#6aae45" stroke="#6aae45" stroke-width="0.12">3</text>
<text x="196.92" y="392.80" font-size="6.6" text-anchor="middle" fill="#6aae45" stroke="#6aae45" stroke-width="0.12">2</text>
<text x="205.94" y="392.80" font-size="6.6" text-anchor="middle" fill="#6aae45" stroke="#6aae45" stroke-width="0.12">2</text>
<text x="214.96" y="392.80" font-size="6.6" text-anchor="middle" fill="#6aae45" stroke="#6aae45" stroke-width="0.12">2</text>
<text x="223.98" y="392.80" font-size="6.6" text-anchor="middle" fill="#6aae45" stroke="#6aae45" stroke-width="0.12">0</text>
<text x="250.20" y="220.90" font-size="14.8" font-weight="bold" fill="#000" textLength="10.7" lengthAdjust="spacingAndGlyphs">C</text>
<text x="365.00" y="225.70" font-size="10.2" stroke="#111" stroke-width="0.12" textLength="27.6" lengthAdjust="spacingAndGlyphs">DLBCL</text>
<line x1="288.50" y1="231.50" x2="288.50" y2="315.40" stroke="#111" stroke-width="1.25"/>
<line x1="287.90" y1="314.80" x2="468.60" y2="314.80" stroke="#111" stroke-width="1.35"/>
<line x1="285.20" y1="306.90" x2="288.50" y2="306.90" stroke="#111" stroke-width="1.2"/>
<text x="281.80" y="309.25" font-size="6.7" text-anchor="end" stroke="#111" stroke-width="0.12">0.0</text>
<line x1="285.20" y1="299.63" x2="288.50" y2="299.63" stroke="#111" stroke-width="1.2"/>
<text x="281.80" y="301.98" font-size="6.7" text-anchor="end" stroke="#111" stroke-width="0.12">0.1</text>
<line x1="285.20" y1="292.36" x2="288.50" y2="292.36" stroke="#111" stroke-width="1.2"/>
<text x="281.80" y="294.71" font-size="6.7" text-anchor="end" stroke="#111" stroke-width="0.12">0.2</text>
<line x1="285.20" y1="285.09" x2="288.50" y2="285.09" stroke="#111" stroke-width="1.2"/>
<text x="281.80" y="287.44" font-size="6.7" text-anchor="end" stroke="#111" stroke-width="0.12">0.3</text>
<line x1="285.20" y1="277.82" x2="288.50" y2="277.82" stroke="#111" stroke-width="1.2"/>
<text x="281.80" y="280.17" font-size="6.7" text-anchor="end" stroke="#111" stroke-width="0.12">0.4</text>
<line x1="285.20" y1="270.55" x2="288.50" y2="270.55" stroke="#111" stroke-width="1.2"/>
<text x="281.80" y="272.90" font-size="6.7" text-anchor="end" stroke="#111" stroke-width="0.12">0.5</text>
<line x1="285.20" y1="263.28" x2="288.50" y2="263.28" stroke="#111" stroke-width="1.2"/>
<text x="281.80" y="265.63" font-size="6.7" text-anchor="end" stroke="#111" stroke-width="0.12">0.6</text>
<line x1="285.20" y1="256.01" x2="288.50" y2="256.01" stroke="#111" stroke-width="1.2"/>
<text x="281.80" y="258.36" font-size="6.7" text-anchor="end" stroke="#111" stroke-width="0.12">0.7</text>
<line x1="285.20" y1="248.74" x2="288.50" y2="248.74" stroke="#111" stroke-width="1.2"/>
<text x="281.80" y="251.09" font-size="6.7" text-anchor="end" stroke="#111" stroke-width="0.12">0.8</text>
<line x1="285.20" y1="241.47" x2="288.50" y2="241.47" stroke="#111" stroke-width="1.2"/>
<text x="281.80" y="243.82" font-size="6.7" text-anchor="end" stroke="#111" stroke-width="0.12">0.9</text>
<line x1="285.20" y1="234.20" x2="288.50" y2="234.20" stroke="#111" stroke-width="1.2"/>
<text x="281.80" y="236.55" font-size="6.7" text-anchor="end" stroke="#111" stroke-width="0.12">1.0</text>
<line x1="293.40" y1="314.80" x2="293.40" y2="318.10" stroke="#111" stroke-width="1.0"/>
<text x="293.40" y="326.90" font-size="6.5" text-anchor="middle" stroke="#111" stroke-width="0.12">0</text>
<line x1="302.42" y1="314.80" x2="302.42" y2="318.10" stroke="#111" stroke-width="1.0"/>
<text x="302.42" y="326.90" font-size="6.5" text-anchor="middle" stroke="#111" stroke-width="0.12">1</text>
<line x1="311.44" y1="314.80" x2="311.44" y2="318.10" stroke="#111" stroke-width="1.0"/>
<text x="311.44" y="326.90" font-size="6.5" text-anchor="middle" stroke="#111" stroke-width="0.12">2</text>
<line x1="320.46" y1="314.80" x2="320.46" y2="318.10" stroke="#111" stroke-width="1.0"/>
<text x="320.46" y="326.90" font-size="6.5" text-anchor="middle" stroke="#111" stroke-width="0.12">3</text>
<line x1="329.48" y1="314.80" x2="329.48" y2="318.10" stroke="#111" stroke-width="1.0"/>
<text x="329.48" y="326.90" font-size="6.5" text-anchor="middle" stroke="#111" stroke-width="0.12">4</text>
<line x1="338.50" y1="314.80" x2="338.50" y2="318.10" stroke="#111" stroke-width="1.0"/>
<text x="338.50" y="326.90" font-size="6.5" text-anchor="middle" stroke="#111" stroke-width="0.12">5</text>
<line x1="347.52" y1="314.80" x2="347.52" y2="318.10" stroke="#111" stroke-width="1.0"/>
<text x="347.52" y="326.90" font-size="6.5" text-anchor="middle" stroke="#111" stroke-width="0.12">6</text>
<line x1="356.54" y1="314.80" x2="356.54" y2="318.10" stroke="#111" stroke-width="1.0"/>
<text x="356.54" y="326.90" font-size="6.5" text-anchor="middle" stroke="#111" stroke-width="0.12">7</text>
<line x1="365.56" y1="314.80" x2="365.56" y2="318.10" stroke="#111" stroke-width="1.0"/>
<text x="365.56" y="326.90" font-size="6.5" text-anchor="middle" stroke="#111" stroke-width="0.12">8</text>
<line x1="374.58" y1="314.80" x2="374.58" y2="318.10" stroke="#111" stroke-width="1.0"/>
<text x="374.58" y="326.90" font-size="6.5" text-anchor="middle" stroke="#111" stroke-width="0.12">9</text>
<line x1="383.60" y1="314.80" x2="383.60" y2="318.10" stroke="#111" stroke-width="1.0"/>
<text x="383.60" y="326.90" font-size="6.5" text-anchor="middle" stroke="#111" stroke-width="0.12">10</text>
<line x1="392.62" y1="314.80" x2="392.62" y2="318.10" stroke="#111" stroke-width="1.0"/>
<text x="392.62" y="326.90" font-size="6.5" text-anchor="middle" stroke="#111" stroke-width="0.12">11</text>
<line x1="401.64" y1="314.80" x2="401.64" y2="318.10" stroke="#111" stroke-width="1.0"/>
<text x="401.64" y="326.90" font-size="6.5" text-anchor="middle" stroke="#111" stroke-width="0.12">12</text>
<line x1="410.66" y1="314.80" x2="410.66" y2="318.10" stroke="#111" stroke-width="1.0"/>
<text x="410.66" y="326.90" font-size="6.5" text-anchor="middle" stroke="#111" stroke-width="0.12">13</text>
<line x1="419.68" y1="314.80" x2="419.68" y2="318.10" stroke="#111" stroke-width="1.0"/>
<text x="419.68" y="326.90" font-size="6.5" text-anchor="middle" stroke="#111" stroke-width="0.12">14</text>
<line x1="428.70" y1="314.80" x2="428.70" y2="318.10" stroke="#111" stroke-width="1.0"/>
<text x="428.70" y="326.90" font-size="6.5" text-anchor="middle" stroke="#111" stroke-width="0.12">15</text>
<line x1="437.72" y1="314.80" x2="437.72" y2="318.10" stroke="#111" stroke-width="1.0"/>
<text x="437.72" y="326.90" font-size="6.5" text-anchor="middle" stroke="#111" stroke-width="0.12">16</text>
<line x1="446.74" y1="314.80" x2="446.74" y2="318.10" stroke="#111" stroke-width="1.0"/>
<text x="446.74" y="326.90" font-size="6.5" text-anchor="middle" stroke="#111" stroke-width="0.12">17</text>
<line x1="455.76" y1="314.80" x2="455.76" y2="318.10" stroke="#111" stroke-width="1.0"/>
<text x="455.76" y="326.90" font-size="6.5" text-anchor="middle" stroke="#111" stroke-width="0.12">18</text>
<line x1="464.78" y1="314.80" x2="464.78" y2="318.10" stroke="#111" stroke-width="1.0"/>
<text x="464.78" y="326.90" font-size="6.5" text-anchor="middle" stroke="#111" stroke-width="0.12">19</text>
<text transform="translate(267.00,272.9) rotate(-90)" font-size="8.5" text-anchor="middle" textLength="34" lengthAdjust="spacingAndGlyphs">Probability</text>
<text x="355.10" y="339.30" font-size="9" stroke="#111" stroke-width="0.12" textLength="45.3" lengthAdjust="spacingAndGlyphs">Time (months)</text>
<circle cx="293.20" cy="310.10" r="0.75" fill="#334f8c"/>
<text x="297.50" y="311.70" font-size="6.7" stroke="#111" stroke-width="0.12" textLength="28.9" lengthAdjust="spacingAndGlyphs">Censored</text>
<text x="391.20" y="236.50" font-size="6.6" stroke="#111" stroke-width="0.12">Median (95% CI) months:</text>
<text x="391.20" y="244.90" font-size="6.6" fill="#42619f" stroke="#42619f" stroke-width="0.12">CR:</text>
<text x="416.80" y="244.90" font-size="6.6" fill="#42619f" stroke="#42619f" stroke-width="0.12">not reached</text>
<text x="391.20" y="253.10" font-size="6.6" fill="#c4264a" stroke="#c4264a" stroke-width="0.12">PR:</text>
<text x="415.90" y="253.10" font-size="6.6" fill="#c4264a" stroke="#c4264a" stroke-width="0.12">2.69 (1.41, 4.04)</text>
<text x="391.20" y="261.20" font-size="6.6" fill="#6aae45" stroke="#6aae45" stroke-width="0.12">CR+PR:</text>
<text x="416.60" y="261.20" font-size="6.6" fill="#6aae45" stroke="#6aae45" stroke-width="0.12">4.17 (3.68, 9.46)</text>
<path d="M293.70,234.60H304.30V241.50H305.20V247.20H306.20V256.80H308.10V260.70H310.00V262.60H312.00V265.50H313.90V267.40H316.80V268.40H318.70V271.80H320.60V275.10H328.30V279.00H330.20V283.80H331.20V289.50H341.80V293.40H343.70V298.20H357.20V306.80H357.20" fill="none" stroke="#b01c45" stroke-width="1.2" stroke-linejoin="miter"/>
<path d="M293.70,234.60H304.30V237.60H306.20V239.90H312.90V243.00H326.80V246.30H328.70V249.20H330.60V252.60H332.20V256.50H334.10V259.20H337.00V262.60H379.30V266.30H389.50V270.80H457.90" fill="none" stroke="#334f8c" stroke-width="1.2" stroke-linejoin="miter"/>
<path d="M293.70,234.60H303.80V235.50H304.30V237.60H305.20V242.40H306.20V247.20H307.20V248.20H310.00V250.10H312.90V252.00H314.80V254.90H317.70V256.80H320.60V258.40H327.30V259.70H329.30V265.50H330.20V271.30H332.20V273.20H336.00V274.20H340.80V276.10H343.70V278.60H357.20V280.30H379.30V282.50H389.50V285.80H457.90" fill="none" stroke="#6fb050" stroke-width="1.2" stroke-linejoin="miter"/>
<line x1="352.30" y1="297.00" x2="352.30" y2="299.40" stroke="#b01c45" stroke-width="0.9"/>
<line x1="337.50" y1="273.00" x2="337.50" y2="275.40" stroke="#6fb050" stroke-width="0.9"/>
<line x1="342.00" y1="274.90" x2="342.00" y2="277.30" stroke="#6fb050" stroke-width="0.9"/>
<line x1="352.30" y1="277.40" x2="352.30" y2="279.80" stroke="#6fb050" stroke-width="0.9"/>
<line x1="374.50" y1="279.10" x2="374.50" y2="281.50" stroke="#6fb050" stroke-width="0.9"/>
<line x1="383.50" y1="281.30" x2="383.50" y2="283.70" stroke="#6fb050" stroke-width="0.9"/>
<line x1="387.80" y1="281.30" x2="387.80" y2="283.70" stroke="#6fb050" stroke-width="0.9"/>
<line x1="402.50" y1="284.60" x2="402.50" y2="287.00" stroke="#6fb050" stroke-width="0.9"/>
<line x1="419.40" y1="284.60" x2="419.40" y2="287.00" stroke="#6fb050" stroke-width="0.9"/>
<line x1="421.00" y1="284.60" x2="421.00" y2="287.00" stroke="#6fb050" stroke-width="0.9"/>
<line x1="423.30" y1="284.60" x2="423.30" y2="287.00" stroke="#6fb050" stroke-width="0.9"/>
<line x1="435.70" y1="284.60" x2="435.70" y2="287.00" stroke="#6fb050" stroke-width="0.9"/>
<line x1="457.90" y1="284.60" x2="457.90" y2="287.00" stroke="#6fb050" stroke-width="0.9"/>
<line x1="375.40" y1="261.40" x2="375.40" y2="263.80" stroke="#334f8c" stroke-width="0.9"/>
<line x1="402.50" y1="269.60" x2="402.50" y2="272.00" stroke="#334f8c" stroke-width="0.9"/>
<line x1="419.40" y1="269.60" x2="419.40" y2="272.00" stroke="#334f8c" stroke-width="0.9"/>
<line x1="421.00" y1="269.60" x2="421.00" y2="272.00" stroke="#334f8c" stroke-width="0.9"/>
<line x1="423.30" y1="269.60" x2="423.30" y2="272.00" stroke="#334f8c" stroke-width="0.9"/>
<line x1="435.70" y1="269.60" x2="435.70" y2="272.00" stroke="#334f8c" stroke-width="0.9"/>
<line x1="457.90" y1="269.60" x2="457.90" y2="272.00" stroke="#334f8c" stroke-width="0.9"/>
<line x1="293.70" y1="233.30" x2="293.70" y2="235.90" stroke="#6fb050" stroke-width="1.0"/>
<line x1="303.00" y1="233.30" x2="303.00" y2="235.90" stroke="#6fb050" stroke-width="1.0"/>
<text x="262.00" y="351.00" font-size="7" font-weight="bold" fill="#000">At risk</text>
<text x="262.20" y="361.90" font-size="6.8" fill="#42619f" stroke="#42619f" stroke-width="0.12">CR</text>
<text x="293.40" y="361.90" font-size="6.6" text-anchor="middle" fill="#42619f" stroke="#42619f" stroke-width="0.12">31</text>
<text x="302.42" y="361.90" font-size="6.6" text-anchor="middle" fill="#42619f" stroke="#42619f" stroke-width="0.12">26</text>
<text x="311.44" y="361.90" font-size="6.6" text-anchor="middle" fill="#42619f" stroke="#42619f" stroke-width="0.12">21</text>
<text x="320.46" y="361.90" font-size="6.6" text-anchor="middle" fill="#42619f" stroke="#42619f" stroke-width="0.12">20</text>
<text x="329.48" y="361.90" font-size="6.6" text-anchor="middle" fill="#42619f" stroke="#42619f" stroke-width="0.12">18</text>
<text x="338.50" y="361.90" font-size="6.6" text-anchor="middle" fill="#42619f" stroke="#42619f" stroke-width="0.12">14</text>
<text x="347.52" y="361.90" font-size="6.6" text-anchor="middle" fill="#42619f" stroke="#42619f" stroke-width="0.12">13</text>
<text x="356.54" y="361.90" font-size="6.6" text-anchor="middle" fill="#42619f" stroke="#42619f" stroke-width="0.12">13</text>
<text x="365.56" y="361.90" font-size="6.6" text-anchor="middle" fill="#42619f" stroke="#42619f" stroke-width="0.12">13</text>
<text x="374.58" y="361.90" font-size="6.6" text-anchor="middle" fill="#42619f" stroke="#42619f" stroke-width="0.12">12</text>
<text x="383.60" y="361.90" font-size="6.6" text-anchor="middle" fill="#42619f" stroke="#42619f" stroke-width="0.12">10</text>
<text x="392.62" y="361.90" font-size="6.6" text-anchor="middle" fill="#42619f" stroke="#42619f" stroke-width="0.12">7</text>
<text x="401.64" y="361.90" font-size="6.6" text-anchor="middle" fill="#42619f" stroke="#42619f" stroke-width="0.12">6</text>
<text x="410.66" y="361.90" font-size="6.6" text-anchor="middle" fill="#42619f" stroke="#42619f" stroke-width="0.12">6</text>
<text x="419.68" y="361.90" font-size="6.6" text-anchor="middle" fill="#42619f" stroke="#42619f" stroke-width="0.12">5</text>
<text x="428.70" y="361.90" font-size="6.6" text-anchor="middle" fill="#42619f" stroke="#42619f" stroke-width="0.12">3</text>
<text x="437.72" y="361.90" font-size="6.6" text-anchor="middle" fill="#42619f" stroke="#42619f" stroke-width="0.12">2</text>
<text x="446.74" y="361.90" font-size="6.6" text-anchor="middle" fill="#42619f" stroke="#42619f" stroke-width="0.12">2</text>
<text x="455.76" y="361.90" font-size="6.6" text-anchor="middle" fill="#42619f" stroke="#42619f" stroke-width="0.12">2</text>
<text x="464.78" y="361.90" font-size="6.6" text-anchor="middle" fill="#42619f" stroke="#42619f" stroke-width="0.12">0</text>
<text x="262.20" y="372.10" font-size="6.8" fill="#c4264a" stroke="#c4264a" stroke-width="0.12">PR</text>
<text x="293.40" y="372.10" font-size="6.6" text-anchor="middle" fill="#c4264a" stroke="#c4264a" stroke-width="0.12">25</text>
<text x="302.42" y="372.10" font-size="6.6" text-anchor="middle" fill="#c4264a" stroke="#c4264a" stroke-width="0.12">22</text>
<text x="311.44" y="372.10" font-size="6.6" text-anchor="middle" fill="#c4264a" stroke="#c4264a" stroke-width="0.12">12</text>
<text x="320.46" y="372.10" font-size="6.6" text-anchor="middle" fill="#c4264a" stroke="#c4264a" stroke-width="0.12">9</text>
<text x="329.48" y="372.10" font-size="6.6" text-anchor="middle" fill="#c4264a" stroke="#c4264a" stroke-width="0.12">8</text>
<text x="338.50" y="372.10" font-size="6.6" text-anchor="middle" fill="#c4264a" stroke="#c4264a" stroke-width="0.12">5</text>
<text x="347.52" y="372.10" font-size="6.6" text-anchor="middle" fill="#c4264a" stroke="#c4264a" stroke-width="0.12">2</text>
<text x="356.54" y="372.10" font-size="6.6" text-anchor="middle" fill="#c4264a" stroke="#c4264a" stroke-width="0.12">1</text>
<text x="365.56" y="372.10" font-size="6.6" text-anchor="middle" fill="#c4264a" stroke="#c4264a" stroke-width="0.12">0</text>
<text x="374.58" y="372.10" font-size="6.6" text-anchor="middle" fill="#c4264a" stroke="#c4264a" stroke-width="0.12">0</text>
<text x="383.60" y="372.10" font-size="6.6" text-anchor="middle" fill="#c4264a" stroke="#c4264a" stroke-width="0.12">0</text>
<text x="392.62" y="372.10" font-size="6.6" text-anchor="middle" fill="#c4264a" stroke="#c4264a" stroke-width="0.12">0</text>
<text x="401.64" y="372.10" font-size="6.6" text-anchor="middle" fill="#c4264a" stroke="#c4264a" stroke-width="0.12">0</text>
<text x="410.66" y="372.10" font-size="6.6" text-anchor="middle" fill="#c4264a" stroke="#c4264a" stroke-width="0.12">0</text>
<text x="419.68" y="372.10" font-size="6.6" text-anchor="middle" fill="#c4264a" stroke="#c4264a" stroke-width="0.12">0</text>
<text x="428.70" y="372.10" font-size="6.6" text-anchor="middle" fill="#c4264a" stroke="#c4264a" stroke-width="0.12">0</text>
<text x="437.72" y="372.10" font-size="6.6" text-anchor="middle" fill="#c4264a" stroke="#c4264a" stroke-width="0.12">0</text>
<text x="446.74" y="372.10" font-size="6.6" text-anchor="middle" fill="#c4264a" stroke="#c4264a" stroke-width="0.12">0</text>
<text x="455.76" y="372.10" font-size="6.6" text-anchor="middle" fill="#c4264a" stroke="#c4264a" stroke-width="0.12">0</text>
<text x="464.78" y="372.10" font-size="6.6" text-anchor="middle" fill="#c4264a" stroke="#c4264a" stroke-width="0.12">0</text>
<text x="262.20" y="382.40" font-size="6.8" fill="#6aae45" stroke="#6aae45" stroke-width="0.12">CR+PR</text>
<text x="293.40" y="382.40" font-size="6.6" text-anchor="middle" fill="#6aae45" stroke="#6aae45" stroke-width="0.12">56</text>
<text x="302.42" y="382.40" font-size="6.6" text-anchor="middle" fill="#6aae45" stroke="#6aae45" stroke-width="0.12">48</text>
<text x="311.44" y="382.40" font-size="6.6" text-anchor="middle" fill="#6aae45" stroke="#6aae45" stroke-width="0.12">33</text>
<text x="320.46" y="382.40" font-size="6.6" text-anchor="middle" fill="#6aae45" stroke="#6aae45" stroke-width="0.12">29</text>
<text x="329.48" y="382.40" font-size="6.6" text-anchor="middle" fill="#6aae45" stroke="#6aae45" stroke-width="0.12">26</text>
<text x="338.50" y="382.40" font-size="6.6" text-anchor="middle" fill="#6aae45" stroke="#6aae45" stroke-width="0.12">19</text>
<text x="347.52" y="382.40" font-size="6.6" text-anchor="middle" fill="#6aae45" stroke="#6aae45" stroke-width="0.12">15</text>
<text x="356.54" y="382.40" font-size="6.6" text-anchor="middle" fill="#6aae45" stroke="#6aae45" stroke-width="0.12">14</text>
<text x="365.56" y="382.40" font-size="6.6" text-anchor="middle" fill="#6aae45" stroke="#6aae45" stroke-width="0.12">13</text>
<text x="374.58" y="382.40" font-size="6.6" text-anchor="middle" fill="#6aae45" stroke="#6aae45" stroke-width="0.12">12</text>
<text x="383.60" y="382.40" font-size="6.6" text-anchor="middle" fill="#6aae45" stroke="#6aae45" stroke-width="0.12">10</text>
<text x="392.62" y="382.40" font-size="6.6" text-anchor="middle" fill="#6aae45" stroke="#6aae45" stroke-width="0.12">7</text>
<text x="401.64" y="382.40" font-size="6.6" text-anchor="middle" fill="#6aae45" stroke="#6aae45" stroke-width="0.12">6</text>
<text x="410.66" y="382.40" font-size="6.6" text-anchor="middle" fill="#6aae45" stroke="#6aae45" stroke-width="0.12">6</text>
<text x="419.68" y="382.40" font-size="6.6" text-anchor="middle" fill="#6aae45" stroke="#6aae45" stroke-width="0.12">5</text>
<text x="428.70" y="382.40" font-size="6.6" text-anchor="middle" fill="#6aae45" stroke="#6aae45" stroke-width="0.12">3</text>
<text x="437.72" y="382.40" font-size="6.6" text-anchor="middle" fill="#6aae45" stroke="#6aae45" stroke-width="0.12">2</text>
<text x="446.74" y="382.40" font-size="6.6" text-anchor="middle" fill="#6aae45" stroke="#6aae45" stroke-width="0.12">2</text>
<text x="455.76" y="382.40" font-size="6.6" text-anchor="middle" fill="#6aae45" stroke="#6aae45" stroke-width="0.12">2</text>
<text x="464.78" y="382.40" font-size="6.6" text-anchor="middle" fill="#6aae45" stroke="#6aae45" stroke-width="0.12">0</text>
<text x="6.10" y="425.90" font-size="14.8" font-weight="bold" fill="#000" textLength="10.7" lengthAdjust="spacingAndGlyphs">D</text>
<line x1="47.50" y1="425.40" x2="47.50" y2="510.00" stroke="#111" stroke-width="1.25"/>
<line x1="46.90" y1="509.40" x2="422.00" y2="509.40" stroke="#111" stroke-width="1.35"/>
<line x1="44.20" y1="501.40" x2="47.50" y2="501.40" stroke="#111" stroke-width="1.2"/>
<text x="40.90" y="503.75" font-size="6.9" text-anchor="end" stroke="#111" stroke-width="0.12">0.0</text>
<line x1="44.20" y1="494.14" x2="47.50" y2="494.14" stroke="#111" stroke-width="1.2"/>
<text x="40.90" y="496.49" font-size="6.9" text-anchor="end" stroke="#111" stroke-width="0.12">0.1</text>
<line x1="44.20" y1="486.88" x2="47.50" y2="486.88" stroke="#111" stroke-width="1.2"/>
<text x="40.90" y="489.23" font-size="6.9" text-anchor="end" stroke="#111" stroke-width="0.12">0.2</text>
<line x1="44.20" y1="479.62" x2="47.50" y2="479.62" stroke="#111" stroke-width="1.2"/>
<text x="40.90" y="481.97" font-size="6.9" text-anchor="end" stroke="#111" stroke-width="0.12">0.3</text>
<line x1="44.20" y1="472.36" x2="47.50" y2="472.36" stroke="#111" stroke-width="1.2"/>
<text x="40.90" y="474.71" font-size="6.9" text-anchor="end" stroke="#111" stroke-width="0.12">0.4</text>
<line x1="44.20" y1="465.10" x2="47.50" y2="465.10" stroke="#111" stroke-width="1.2"/>
<text x="40.90" y="467.45" font-size="6.9" text-anchor="end" stroke="#111" stroke-width="0.12">0.5</text>
<line x1="44.20" y1="457.84" x2="47.50" y2="457.84" stroke="#111" stroke-width="1.2"/>
<text x="40.90" y="460.19" font-size="6.9" text-anchor="end" stroke="#111" stroke-width="0.12">0.6</text>
<line x1="44.20" y1="450.58" x2="47.50" y2="450.58" stroke="#111" stroke-width="1.2"/>
<text x="40.90" y="452.93" font-size="6.9" text-anchor="end" stroke="#111" stroke-width="0.12">0.7</text>
<line x1="44.20" y1="443.32" x2="47.50" y2="443.32" stroke="#111" stroke-width="1.2"/>
<text x="40.90" y="445.67" font-size="6.9" text-anchor="end" stroke="#111" stroke-width="0.12">0.8</text>
<line x1="44.20" y1="436.06" x2="47.50" y2="436.06" stroke="#111" stroke-width="1.2"/>
<text x="40.90" y="438.41" font-size="6.9" text-anchor="end" stroke="#111" stroke-width="0.12">0.9</text>
<line x1="44.20" y1="428.80" x2="47.50" y2="428.80" stroke="#111" stroke-width="1.2"/>
<text x="40.90" y="431.15" font-size="6.9" text-anchor="end" stroke="#111" stroke-width="0.12">1.0</text>
<line x1="54.00" y1="509.40" x2="54.00" y2="512.70" stroke="#111" stroke-width="1.0"/>
<text x="54.00" y="521.40" font-size="6.5" text-anchor="middle" stroke="#111" stroke-width="0.12">0</text>
<line x1="66.16" y1="509.40" x2="66.16" y2="512.70" stroke="#111" stroke-width="1.0"/>
<text x="66.16" y="521.40" font-size="6.5" text-anchor="middle" stroke="#111" stroke-width="0.12">1</text>
<line x1="78.33" y1="509.40" x2="78.33" y2="512.70" stroke="#111" stroke-width="1.0"/>
<text x="78.33" y="521.40" font-size="6.5" text-anchor="middle" stroke="#111" stroke-width="0.12">2</text>
<line x1="90.50" y1="509.40" x2="90.50" y2="512.70" stroke="#111" stroke-width="1.0"/>
<text x="90.50" y="521.40" font-size="6.5" text-anchor="middle" stroke="#111" stroke-width="0.12">3</text>
<line x1="102.66" y1="509.40" x2="102.66" y2="512.70" stroke="#111" stroke-width="1.0"/>
<text x="102.66" y="521.40" font-size="6.5" text-anchor="middle" stroke="#111" stroke-width="0.12">4</text>
<line x1="114.82" y1="509.40" x2="114.82" y2="512.70" stroke="#111" stroke-width="1.0"/>
<text x="114.82" y="521.40" font-size="6.5" text-anchor="middle" stroke="#111" stroke-width="0.12">5</text>
<line x1="126.99" y1="509.40" x2="126.99" y2="512.70" stroke="#111" stroke-width="1.0"/>
<text x="126.99" y="521.40" font-size="6.5" text-anchor="middle" stroke="#111" stroke-width="0.12">6</text>
<line x1="139.16" y1="509.40" x2="139.16" y2="512.70" stroke="#111" stroke-width="1.0"/>
<text x="139.16" y="521.40" font-size="6.5" text-anchor="middle" stroke="#111" stroke-width="0.12">7</text>
<line x1="151.32" y1="509.40" x2="151.32" y2="512.70" stroke="#111" stroke-width="1.0"/>
<text x="151.32" y="521.40" font-size="6.5" text-anchor="middle" stroke="#111" stroke-width="0.12">8</text>
<line x1="163.48" y1="509.40" x2="163.48" y2="512.70" stroke="#111" stroke-width="1.0"/>
<text x="163.48" y="521.40" font-size="6.5" text-anchor="middle" stroke="#111" stroke-width="0.12">9</text>
<line x1="175.65" y1="509.40" x2="175.65" y2="512.70" stroke="#111" stroke-width="1.0"/>
<text x="175.65" y="521.40" font-size="6.5" text-anchor="middle" stroke="#111" stroke-width="0.12">10</text>
<line x1="187.81" y1="509.40" x2="187.81" y2="512.70" stroke="#111" stroke-width="1.0"/>
<text x="187.81" y="521.40" font-size="6.5" text-anchor="middle" stroke="#111" stroke-width="0.12">11</text>
<line x1="199.98" y1="509.40" x2="199.98" y2="512.70" stroke="#111" stroke-width="1.0"/>
<text x="199.98" y="521.40" font-size="6.5" text-anchor="middle" stroke="#111" stroke-width="0.12">12</text>
<line x1="212.14" y1="509.40" x2="212.14" y2="512.70" stroke="#111" stroke-width="1.0"/>
<text x="212.14" y="521.40" font-size="6.5" text-anchor="middle" stroke="#111" stroke-width="0.12">13</text>
<line x1="224.31" y1="509.40" x2="224.31" y2="512.70" stroke="#111" stroke-width="1.0"/>
<text x="224.31" y="521.40" font-size="6.5" text-anchor="middle" stroke="#111" stroke-width="0.12">14</text>
<line x1="236.47" y1="509.40" x2="236.47" y2="512.70" stroke="#111" stroke-width="1.0"/>
<text x="236.47" y="521.40" font-size="6.5" text-anchor="middle" stroke="#111" stroke-width="0.12">15</text>
<line x1="248.64" y1="509.40" x2="248.64" y2="512.70" stroke="#111" stroke-width="1.0"/>
<text x="248.64" y="521.40" font-size="6.5" text-anchor="middle" stroke="#111" stroke-width="0.12">16</text>
<line x1="260.80" y1="509.40" x2="260.80" y2="512.70" stroke="#111" stroke-width="1.0"/>
<text x="260.80" y="521.40" font-size="6.5" text-anchor="middle" stroke="#111" stroke-width="0.12">17</text>
<line x1="272.97" y1="509.40" x2="272.97" y2="512.70" stroke="#111" stroke-width="1.0"/>
<text x="272.97" y="521.40" font-size="6.5" text-anchor="middle" stroke="#111" stroke-width="0.12">18</text>
<line x1="285.13" y1="509.40" x2="285.13" y2="512.70" stroke="#111" stroke-width="1.0"/>
<text x="285.13" y="521.40" font-size="6.5" text-anchor="middle" stroke="#111" stroke-width="0.12">19</text>
<line x1="297.30" y1="509.40" x2="297.30" y2="512.70" stroke="#111" stroke-width="1.0"/>
<text x="297.30" y="521.40" font-size="6.5" text-anchor="middle" stroke="#111" stroke-width="0.12">20</text>
<line x1="309.46" y1="509.40" x2="309.46" y2="512.70" stroke="#111" stroke-width="1.0"/>
<text x="309.46" y="521.40" font-size="6.5" text-anchor="middle" stroke="#111" stroke-width="0.12">21</text>
<line x1="321.63" y1="509.40" x2="321.63" y2="512.70" stroke="#111" stroke-width="1.0"/>
<text x="321.63" y="521.40" font-size="6.5" text-anchor="middle" stroke="#111" stroke-width="0.12">22</text>
<line x1="333.79" y1="509.40" x2="333.79" y2="512.70" stroke="#111" stroke-width="1.0"/>
<text x="333.79" y="521.40" font-size="6.5" text-anchor="middle" stroke="#111" stroke-width="0.12">23</text>
<line x1="345.96" y1="509.40" x2="345.96" y2="512.70" stroke="#111" stroke-width="1.0"/>
<text x="345.96" y="521.40" font-size="6.5" text-anchor="middle" stroke="#111" stroke-width="0.12">24</text>
<line x1="358.12" y1="509.40" x2="358.12" y2="512.70" stroke="#111" stroke-width="1.0"/>
<text x="358.12" y="521.40" font-size="6.5" text-anchor="middle" stroke="#111" stroke-width="0.12">25</text>
<line x1="370.29" y1="509.40" x2="370.29" y2="512.70" stroke="#111" stroke-width="1.0"/>
<text x="370.29" y="521.40" font-size="6.5" text-anchor="middle" stroke="#111" stroke-width="0.12">26</text>
<line x1="382.45" y1="509.40" x2="382.45" y2="512.70" stroke="#111" stroke-width="1.0"/>
<text x="382.45" y="521.40" font-size="6.5" text-anchor="middle" stroke="#111" stroke-width="0.12">27</text>
<line x1="394.62" y1="509.40" x2="394.62" y2="512.70" stroke="#111" stroke-width="1.0"/>
<text x="394.62" y="521.40" font-size="6.5" text-anchor="middle" stroke="#111" stroke-width="0.12">28</text>
<line x1="406.78" y1="509.40" x2="406.78" y2="512.70" stroke="#111" stroke-width="1.0"/>
<text x="406.78" y="521.40" font-size="6.5" text-anchor="middle" stroke="#111" stroke-width="0.12">29</text>
<line x1="418.95" y1="509.40" x2="418.95" y2="512.70" stroke="#111" stroke-width="1.0"/>
<text x="418.95" y="521.40" font-size="6.5" text-anchor="middle" stroke="#111" stroke-width="0.12">30</text>
<text transform="translate(24.9,467.20) rotate(-90)" font-size="8.5" text-anchor="middle" textLength="33.4" lengthAdjust="spacingAndGlyphs">Probability</text>
<text x="212.20" y="533.70" font-size="9" stroke="#111" stroke-width="0.12" textLength="45.3" lengthAdjust="spacingAndGlyphs">Time (months)</text>
<circle cx="51.70" cy="504.90" r="1.6" fill="#fff" stroke="#000" stroke-width="1.0"/>
<text x="57.20" y="507.00" font-size="6.7" stroke="#111" stroke-width="0.12" textLength="28.8" lengthAdjust="spacingAndGlyphs">Censored</text>
<circle cx="356.10" cy="427.50" r="1.7" fill="#fff" stroke="#b8163f" stroke-width="1.15"/>
<text x="361.30" y="429.80" font-size="6.75" stroke="#111" stroke-width="0.12">B-NHL</text>
<text x="385.30" y="429.80" font-size="6.8" stroke="#111" stroke-width="0.12">Median (95% CI) months: 3.09 (2.66, 4.24)</text>
<circle cx="356.10" cy="437.85" r="1.9" fill="#14306e"/>
<text x="361.30" y="440.15" font-size="6.75" stroke="#111" stroke-width="0.12">DLBCL</text>
<text x="385.30" y="440.15" font-size="6.8" stroke="#111" stroke-width="0.12">Median (95% CI) months: 2.83 (1.91, 3.75)</text>
<rect x="354.20" y="446.30" width="3.8" height="3.8" fill="#4f9a22"/>
<text x="361.30" y="450.50" font-size="6.75" stroke="#111" stroke-width="0.12">MCL</text>
<text x="385.30" y="450.50" font-size="6.8" stroke="#111" stroke-width="0.12">Median (95% CI) months: 4.80 (1.12, 7.82)</text>
<path d="M354.10,460.45L356.10,457.05L358.10,460.45Z" fill="#3a0f5a"/>
<text x="361.30" y="460.85" font-size="6.75" stroke="#111" stroke-width="0.12">FL</text>
<text x="385.30" y="460.85" font-size="6.8" stroke="#111" stroke-width="0.12">Median (95% CI) months: not reached</text>
<path d="M53.80,429.20H68.80V439.20H78.10V444.20H85.00V450.00H95.00V455.50H311.90" fill="none" stroke="#633d7a" stroke-width="1.4" stroke-linejoin="miter"/>
<path d="M53.80,429.20H58.10V429.80H60.40V432.70H61.90V435.00H64.20V436.50H65.80V440.40H66.50V444.20H66.80V450.40H67.70V454.20H69.20V456.50H71.90V456.90H75.00V458.10H78.10V460.00H81.20V460.40H84.20V461.20H85.80V462.70H88.10V465.80H90.40V468.10H94.20V469.90H97.30V472.20H103.50V474.50H112.70V476.80H118.80V478.40H120.40V481.00H121.20V484.00H126.00V486.00H133.80V487.30H148.80V488.90H163.80V489.60H189.20V490.30H199.60V491.30H384.50" fill="none" stroke="#334f8c" stroke-width="1.4" stroke-linejoin="miter"/>
<path d="M53.80,429.20H58.10V429.80H60.80V432.70H62.70V435.00H65.00V436.50H66.50V440.40H68.10V442.70H69.20V446.50H70.00V450.40H71.20V452.70H72.70V453.80H75.80V455.40H78.10V456.20H81.20V456.90H84.20V458.10H87.30V459.60H89.60V461.90H91.90V464.20H95.80V466.60H100.40V469.20H105.00V470.70H109.60V471.90H114.20V473.00H120.40V475.60H121.20V478.10H124.60V480.40H133.80V481.50H137.30V482.70H148.80V484.30H177.70V485.00H189.20V486.00H198.50V486.60H384.80" fill="none" stroke="#b01c45" stroke-width="1.4" stroke-linejoin="miter"/>
<path d="M63.00,429.20H64.20V433.10H66.60V454.40H76.20V459.70H111.50V466.10H123.80V471.80H131.50V477.40H148.80V484.00H358.00" fill="none" stroke="#6fb050" stroke-width="1.4" stroke-linejoin="miter"/>
<circle cx="110.50" cy="471.90" r="1.45" fill="#fff" stroke="#ad1740" stroke-width="1.45"/>
<circle cx="112.00" cy="471.90" r="1.45" fill="#fff" stroke="#ad1740" stroke-width="1.45"/>
<circle cx="135.00" cy="481.50" r="1.45" fill="#fff" stroke="#ad1740" stroke-width="1.45"/>
<circle cx="148.80" cy="484.30" r="1.45" fill="#fff" stroke="#ad1740" stroke-width="1.45"/>
<circle cx="151.00" cy="484.30" r="1.45" fill="#fff" stroke="#ad1740" stroke-width="1.45"/>
<circle cx="162.70" cy="484.30" r="1.45" fill="#fff" stroke="#ad1740" stroke-width="1.45"/>
<circle cx="178.80" cy="485.00" r="1.45" fill="#fff" stroke="#ad1740" stroke-width="1.45"/>
<circle cx="181.80" cy="485.00" r="1.45" fill="#fff" stroke="#ad1740" stroke-width="1.45"/>
<circle cx="189.20" cy="486.00" r="1.45" fill="#fff" stroke="#ad1740" stroke-width="1.45"/>
<circle cx="196.20" cy="486.00" r="1.45" fill="#fff" stroke="#ad1740" stroke-width="1.45"/>
<circle cx="199.60" cy="486.60" r="1.45" fill="#fff" stroke="#ad1740" stroke-width="1.45"/>
<circle cx="213.50" cy="486.60" r="1.45" fill="#fff" stroke="#ad1740" stroke-width="1.45"/>
<circle cx="215.80" cy="486.60" r="1.45" fill="#fff" stroke="#ad1740" stroke-width="1.45"/>
<circle cx="218.10" cy="486.60" r="1.45" fill="#fff" stroke="#ad1740" stroke-width="1.45"/>
<circle cx="221.50" cy="486.60" r="1.45" fill="#fff" stroke="#ad1740" stroke-width="1.45"/>
<circle cx="231.90" cy="486.60" r="1.45" fill="#fff" stroke="#ad1740" stroke-width="1.45"/>
<circle cx="235.40" cy="486.60" r="1.45" fill="#fff" stroke="#ad1740" stroke-width="1.45"/>
<circle cx="238.80" cy="486.60" r="1.45" fill="#fff" stroke="#ad1740" stroke-width="1.45"/>
<circle cx="235.00" cy="486.60" r="1.45" fill="#fff" stroke="#ad1740" stroke-width="1.45"/>
<circle cx="241.80" cy="486.60" r="1.45" fill="#fff" stroke="#ad1740" stroke-width="1.45"/>
<circle cx="244.00" cy="486.60" r="1.45" fill="#fff" stroke="#ad1740" stroke-width="1.45"/>
<circle cx="253.00" cy="486.60" r="1.45" fill="#fff" stroke="#ad1740" stroke-width="1.45"/>
<circle cx="255.30" cy="486.60" r="1.45" fill="#fff" stroke="#ad1740" stroke-width="1.45"/>
<circle cx="257.40" cy="486.60" r="1.45" fill="#fff" stroke="#ad1740" stroke-width="1.45"/>
<circle cx="313.50" cy="486.60" r="1.45" fill="#fff" stroke="#ad1740" stroke-width="1.45"/>
<circle cx="358.00" cy="486.60" r="1.45" fill="#fff" stroke="#ad1740" stroke-width="1.45"/>
<circle cx="373.50" cy="486.60" r="1.45" fill="#fff" stroke="#ad1740" stroke-width="1.45"/>
<circle cx="384.80" cy="486.60" r="1.45" fill="#fff" stroke="#ad1740" stroke-width="1.45"/>
<circle cx="66.60" cy="444.20" r="1.75" fill="#1d3878"/>
<circle cx="66.90" cy="450.40" r="1.75" fill="#1d3878"/>
<circle cx="69.60" cy="456.50" r="1.75" fill="#1d3878"/>
<circle cx="74.20" cy="456.90" r="1.75" fill="#1d3878"/>
<circle cx="78.10" cy="460.00" r="1.75" fill="#1d3878"/>
<circle cx="81.20" cy="460.40" r="1.75" fill="#1d3878"/>
<circle cx="85.80" cy="462.70" r="1.75" fill="#1d3878"/>
<circle cx="88.80" cy="465.80" r="1.75" fill="#1d3878"/>
<circle cx="89.80" cy="465.80" r="1.75" fill="#1d3878"/>
<circle cx="104.50" cy="474.50" r="1.75" fill="#1d3878"/>
<circle cx="111.50" cy="474.50" r="1.75" fill="#1d3878"/>
<circle cx="119.80" cy="478.40" r="1.75" fill="#1d3878"/>
<circle cx="135.00" cy="487.30" r="1.75" fill="#1d3878"/>
<circle cx="148.80" cy="488.90" r="1.75" fill="#1d3878"/>
<circle cx="162.70" cy="488.90" r="1.75" fill="#1d3878"/>
<circle cx="178.80" cy="489.60" r="1.75" fill="#1d3878"/>
<circle cx="181.80" cy="489.60" r="1.75" fill="#1d3878"/>
<circle cx="189.20" cy="490.30" r="1.75" fill="#1d3878"/>
<circle cx="197.30" cy="490.30" r="1.75" fill="#1d3878"/>
<circle cx="200.80" cy="491.30" r="1.75" fill="#1d3878"/>
<circle cx="231.90" cy="491.30" r="1.75" fill="#1d3878"/>
<circle cx="236.50" cy="491.30" r="1.75" fill="#1d3878"/>
<circle cx="250.50" cy="491.30" r="1.75" fill="#1d3878"/>
<circle cx="253.00" cy="491.30" r="1.75" fill="#1d3878"/>
<circle cx="258.20" cy="491.30" r="1.75" fill="#1d3878"/>
<circle cx="260.50" cy="491.30" r="1.75" fill="#1d3878"/>
<circle cx="287.50" cy="491.30" r="1.75" fill="#1d3878"/>
<circle cx="290.50" cy="491.30" r="1.75" fill="#1d3878"/>
<circle cx="384.50" cy="491.30" r="1.75" fill="#1d3878"/>
<rect x="210.40" y="482.10" width="3.8" height="3.8" fill="#5ea838"/>
<rect x="216.20" y="482.10" width="3.8" height="3.8" fill="#5ea838"/>
<rect x="356.10" y="482.10" width="3.8" height="3.8" fill="#5ea838"/>
<path d="M83.30,451.70L85.30,448.30L87.30,451.70Z" fill="#4b1f6b"/>
<path d="M109.20,457.20L111.20,453.80L113.20,457.20Z" fill="#4b1f6b"/>
<path d="M148.00,457.20L150.00,453.80L152.00,457.20Z" fill="#4b1f6b"/>
<path d="M175.20,457.20L177.20,453.80L179.20,457.20Z" fill="#4b1f6b"/>
<path d="M196.50,457.20L198.50,453.80L200.50,457.20Z" fill="#4b1f6b"/>
<path d="M211.50,457.20L213.50,453.80L215.50,457.20Z" fill="#4b1f6b"/>
<path d="M218.40,457.20L220.40,453.80L222.40,457.20Z" fill="#4b1f6b"/>
<path d="M219.00,457.20L221.00,453.80L223.00,457.20Z" fill="#4b1f6b"/>
<path d="M284.50,457.20L286.50,453.80L288.50,457.20Z" fill="#4b1f6b"/>
<path d="M309.90,457.20L311.90,453.80L313.90,457.20Z" fill="#4b1f6b"/>
<rect x="64.70" y="441.60" width="3.8" height="3.8" fill="#5ea838"/>
<rect x="64.70" y="446.60" width="3.8" height="3.8" fill="#5ea838"/>
<text x="7.40" y="545.20" font-size="7" font-weight="bold" fill="#000">At risk</text>
<text x="7.40" y="555.75" font-size="6.8" stroke="#111" stroke-width="0.12">B-NHL</text>
<text x="54.00" y="555.75" font-size="6.6" text-anchor="middle" stroke="#111" stroke-width="0.12">180</text>
<text x="66.16" y="555.75" font-size="6.6" text-anchor="middle" stroke="#111" stroke-width="0.12">157</text>
<text x="78.33" y="555.75" font-size="6.6" text-anchor="middle" stroke="#111" stroke-width="0.12">97</text>
<text x="90.50" y="555.75" font-size="6.6" text-anchor="middle" stroke="#111" stroke-width="0.12">73</text>
<text x="102.66" y="555.75" font-size="6.6" text-anchor="middle" stroke="#111" stroke-width="0.12">63</text>
<text x="114.82" y="555.75" font-size="6.6" text-anchor="middle" stroke="#111" stroke-width="0.12">53</text>
<text x="126.99" y="555.75" font-size="6.6" text-anchor="middle" stroke="#111" stroke-width="0.12">40</text>
<text x="139.16" y="555.75" font-size="6.6" text-anchor="middle" stroke="#111" stroke-width="0.12">33</text>
<text x="151.32" y="555.75" font-size="6.6" text-anchor="middle" stroke="#111" stroke-width="0.12">30</text>
<text x="163.48" y="555.75" font-size="6.6" text-anchor="middle" stroke="#111" stroke-width="0.12">28</text>
<text x="175.65" y="555.75" font-size="6.6" text-anchor="middle" stroke="#111" stroke-width="0.12">27</text>
<text x="187.81" y="555.75" font-size="6.6" text-anchor="middle" stroke="#111" stroke-width="0.12">22</text>
<text x="199.98" y="555.75" font-size="6.6" text-anchor="middle" stroke="#111" stroke-width="0.12">19</text>
<text x="212.14" y="555.75" font-size="6.6" text-anchor="middle" stroke="#111" stroke-width="0.12">17</text>
<text x="224.31" y="555.75" font-size="6.6" text-anchor="middle" stroke="#111" stroke-width="0.12">13</text>
<text x="236.47" y="555.75" font-size="6.6" text-anchor="middle" stroke="#111" stroke-width="0.12">12</text>
<text x="248.64" y="555.75" font-size="6.6" text-anchor="middle" stroke="#111" stroke-width="0.12">9</text>
<text x="260.80" y="555.75" font-size="6.6" text-anchor="middle" stroke="#111" stroke-width="0.12">8</text>
<text x="272.97" y="555.75" font-size="6.6" text-anchor="middle" stroke="#111" stroke-width="0.12">7</text>
<text x="285.13" y="555.75" font-size="6.6" text-anchor="middle" stroke="#111" stroke-width="0.12">7</text>
<text x="297.30" y="555.75" font-size="6.6" text-anchor="middle" stroke="#111" stroke-width="0.12">4</text>
<text x="309.46" y="555.75" font-size="6.6" text-anchor="middle" stroke="#111" stroke-width="0.12">4</text>
<text x="321.63" y="555.75" font-size="6.6" text-anchor="middle" stroke="#111" stroke-width="0.12">3</text>
<text x="333.79" y="555.75" font-size="6.6" text-anchor="middle" stroke="#111" stroke-width="0.12">3</text>
<text x="345.96" y="555.75" font-size="6.6" text-anchor="middle" stroke="#111" stroke-width="0.12">3</text>
<text x="358.12" y="555.75" font-size="6.6" text-anchor="middle" stroke="#111" stroke-width="0.12">3</text>
<text x="370.29" y="555.75" font-size="6.6" text-anchor="middle" stroke="#111" stroke-width="0.12">2</text>
<text x="382.45" y="555.75" font-size="6.6" text-anchor="middle" stroke="#111" stroke-width="0.12">1</text>
<text x="394.62" y="555.75" font-size="6.6" text-anchor="middle" stroke="#111" stroke-width="0.12">0</text>
<text x="7.40" y="566.10" font-size="6.8" stroke="#111" stroke-width="0.12">DLBCL</text>
<text x="54.00" y="566.10" font-size="6.6" text-anchor="middle" stroke="#111" stroke-width="0.12">137</text>
<text x="66.16" y="566.10" font-size="6.6" text-anchor="middle" stroke="#111" stroke-width="0.12">116</text>
<text x="78.33" y="566.10" font-size="6.6" text-anchor="middle" stroke="#111" stroke-width="0.12">71</text>
<text x="90.50" y="566.10" font-size="6.6" text-anchor="middle" stroke="#111" stroke-width="0.12">52</text>
<text x="102.66" y="566.10" font-size="6.6" text-anchor="middle" stroke="#111" stroke-width="0.12">44</text>
<text x="114.82" y="566.10" font-size="6.6" text-anchor="middle" stroke="#111" stroke-width="0.12">36</text>
<text x="126.99" y="566.10" font-size="6.6" text-anchor="middle" stroke="#111" stroke-width="0.12">24</text>
<text x="139.16" y="566.10" font-size="6.6" text-anchor="middle" stroke="#111" stroke-width="0.12">19</text>
<text x="151.32" y="566.10" font-size="6.6" text-anchor="middle" stroke="#111" stroke-width="0.12">17</text>
<text x="163.48" y="566.10" font-size="6.6" text-anchor="middle" stroke="#111" stroke-width="0.12">16</text>
<text x="175.65" y="566.10" font-size="6.6" text-anchor="middle" stroke="#111" stroke-width="0.12">15</text>
<text x="187.81" y="566.10" font-size="6.6" text-anchor="middle" stroke="#111" stroke-width="0.12">12</text>
<text x="199.98" y="566.10" font-size="6.6" text-anchor="middle" stroke="#111" stroke-width="0.12">9</text>
<text x="212.14" y="566.10" font-size="6.6" text-anchor="middle" stroke="#111" stroke-width="0.12">8</text>
<text x="224.31" y="566.10" font-size="6.6" text-anchor="middle" stroke="#111" stroke-width="0.12">8</text>
<text x="236.47" y="566.10" font-size="6.6" text-anchor="middle" stroke="#111" stroke-width="0.12">7</text>
<text x="248.64" y="566.10" font-size="6.6" text-anchor="middle" stroke="#111" stroke-width="0.12">5</text>
<text x="260.80" y="566.10" font-size="6.6" text-anchor="middle" stroke="#111" stroke-width="0.12">4</text>
<text x="272.97" y="566.10" font-size="6.6" text-anchor="middle" stroke="#111" stroke-width="0.12">3</text>
<text x="285.13" y="566.10" font-size="6.6" text-anchor="middle" stroke="#111" stroke-width="0.12">3</text>
<text x="297.30" y="566.10" font-size="6.6" text-anchor="middle" stroke="#111" stroke-width="0.12">1</text>
<text x="309.46" y="566.10" font-size="6.6" text-anchor="middle" stroke="#111" stroke-width="0.12">1</text>
<text x="321.63" y="566.10" font-size="6.6" text-anchor="middle" stroke="#111" stroke-width="0.12">1</text>
<text x="333.79" y="566.10" font-size="6.6" text-anchor="middle" stroke="#111" stroke-width="0.12">1</text>
<text x="345.96" y="566.10" font-size="6.6" text-anchor="middle" stroke="#111" stroke-width="0.12">1</text>
<text x="358.12" y="566.10" font-size="6.6" text-anchor="middle" stroke="#111" stroke-width="0.12">1</text>
<text x="370.29" y="566.10" font-size="6.6" text-anchor="middle" stroke="#111" stroke-width="0.12">1</text>
<text x="382.45" y="566.10" font-size="6.6" text-anchor="middle" stroke="#111" stroke-width="0.12">1</text>
<text x="394.62" y="566.10" font-size="6.6" text-anchor="middle" stroke="#111" stroke-width="0.12">0</text>
<text x="7.40" y="576.60" font-size="6.8" stroke="#111" stroke-width="0.12">MCL</text>
<text x="54.00" y="576.60" font-size="6.6" text-anchor="middle" stroke="#111" stroke-width="0.12">15</text>
<text x="66.16" y="576.60" font-size="6.6" text-anchor="middle" stroke="#111" stroke-width="0.12">14</text>
<text x="78.33" y="576.60" font-size="6.6" text-anchor="middle" stroke="#111" stroke-width="0.12">7</text>
<text x="90.50" y="576.60" font-size="6.6" text-anchor="middle" stroke="#111" stroke-width="0.12">7</text>
<text x="102.66" y="576.60" font-size="6.6" text-anchor="middle" stroke="#111" stroke-width="0.12">7</text>
<text x="114.82" y="576.60" font-size="6.6" text-anchor="middle" stroke="#111" stroke-width="0.12">6</text>
<text x="126.99" y="576.60" font-size="6.6" text-anchor="middle" stroke="#111" stroke-width="0.12">5</text>
<text x="139.16" y="576.60" font-size="6.6" text-anchor="middle" stroke="#111" stroke-width="0.12">4</text>
<text x="151.32" y="576.60" font-size="6.6" text-anchor="middle" stroke="#111" stroke-width="0.12">3</text>
<text x="163.48" y="576.60" font-size="6.6" text-anchor="middle" stroke="#111" stroke-width="0.12">3</text>
<text x="175.65" y="576.60" font-size="6.6" text-anchor="middle" stroke="#111" stroke-width="0.12">3</text>
<text x="187.81" y="576.60" font-size="6.6" text-anchor="middle" stroke="#111" stroke-width="0.12">3</text>
<text x="199.98" y="576.60" font-size="6.6" text-anchor="middle" stroke="#111" stroke-width="0.12">3</text>
<text x="212.14" y="576.60" font-size="6.6" text-anchor="middle" stroke="#111" stroke-width="0.12">3</text>
<text x="224.31" y="576.60" font-size="6.6" text-anchor="middle" stroke="#111" stroke-width="0.12">1</text>
<text x="236.47" y="576.60" font-size="6.6" text-anchor="middle" stroke="#111" stroke-width="0.12">1</text>
<text x="248.64" y="576.60" font-size="6.6" text-anchor="middle" stroke="#111" stroke-width="0.12">1</text>
<text x="260.80" y="576.60" font-size="6.6" text-anchor="middle" stroke="#111" stroke-width="0.12">1</text>
<text x="272.97" y="576.60" font-size="6.6" text-anchor="middle" stroke="#111" stroke-width="0.12">1</text>
<text x="285.13" y="576.60" font-size="6.6" text-anchor="middle" stroke="#111" stroke-width="0.12">1</text>
<text x="297.30" y="576.60" font-size="6.6" text-anchor="middle" stroke="#111" stroke-width="0.12">1</text>
<text x="309.46" y="576.60" font-size="6.6" text-anchor="middle" stroke="#111" stroke-width="0.12">1</text>
<text x="321.63" y="576.60" font-size="6.6" text-anchor="middle" stroke="#111" stroke-width="0.12">1</text>
<text x="333.79" y="576.60" font-size="6.6" text-anchor="middle" stroke="#111" stroke-width="0.12">1</text>
<text x="345.96" y="576.60" font-size="6.6" text-anchor="middle" stroke="#111" stroke-width="0.12">1</text>
<text x="358.12" y="576.60" font-size="6.6" text-anchor="middle" stroke="#111" stroke-width="0.12">1</text>
<text x="370.29" y="576.60" font-size="6.6" text-anchor="middle" stroke="#111" stroke-width="0.12">0</text>
<text x="7.40" y="587.20" font-size="6.8" stroke="#111" stroke-width="0.12">FL</text>
<text x="54.00" y="587.20" font-size="6.6" text-anchor="middle" stroke="#111" stroke-width="0.12">14</text>
<text x="66.16" y="587.20" font-size="6.6" text-anchor="middle" stroke="#111" stroke-width="0.12">14</text>
<text x="78.33" y="587.20" font-size="6.6" text-anchor="middle" stroke="#111" stroke-width="0.12">12</text>
<text x="90.50" y="587.20" font-size="6.6" text-anchor="middle" stroke="#111" stroke-width="0.12">9</text>
<text x="102.66" y="587.20" font-size="6.6" text-anchor="middle" stroke="#111" stroke-width="0.12">8</text>
<text x="114.82" y="587.20" font-size="6.6" text-anchor="middle" stroke="#111" stroke-width="0.12">7</text>
<text x="126.99" y="587.20" font-size="6.6" text-anchor="middle" stroke="#111" stroke-width="0.12">7</text>
<text x="139.16" y="587.20" font-size="6.6" text-anchor="middle" stroke="#111" stroke-width="0.12">7</text>
<text x="151.32" y="587.20" font-size="6.6" text-anchor="middle" stroke="#111" stroke-width="0.12">7</text>
<text x="163.48" y="587.20" font-size="6.6" text-anchor="middle" stroke="#111" stroke-width="0.12">6</text>
<text x="175.65" y="587.20" font-size="6.6" text-anchor="middle" stroke="#111" stroke-width="0.12">6</text>
<text x="187.81" y="587.20" font-size="6.6" text-anchor="middle" stroke="#111" stroke-width="0.12">5</text>
<text x="199.98" y="587.20" font-size="6.6" text-anchor="middle" stroke="#111" stroke-width="0.12">5</text>
<text x="212.14" y="587.20" font-size="6.6" text-anchor="middle" stroke="#111" stroke-width="0.12">4</text>
<text x="224.31" y="587.20" font-size="6.6" text-anchor="middle" stroke="#111" stroke-width="0.12">2</text>
<text x="236.47" y="587.20" font-size="6.6" text-anchor="middle" stroke="#111" stroke-width="0.12">2</text>
<text x="248.64" y="587.20" font-size="6.6" text-anchor="middle" stroke="#111" stroke-width="0.12">2</text>
<text x="260.80" y="587.20" font-size="6.6" text-anchor="middle" stroke="#111" stroke-width="0.12">2</text>
<text x="272.97" y="587.20" font-size="6.6" text-anchor="middle" stroke="#111" stroke-width="0.12">2</text>
<text x="285.13" y="587.20" font-size="6.6" text-anchor="middle" stroke="#111" stroke-width="0.12">2</text>
<text x="297.30" y="587.20" font-size="6.6" text-anchor="middle" stroke="#111" stroke-width="0.12">1</text>
<text x="309.46" y="587.20" font-size="6.6" text-anchor="middle" stroke="#111" stroke-width="0.12">1</text>
<text x="321.63" y="587.20" font-size="6.6" text-anchor="middle" stroke="#111" stroke-width="0.12">0</text>
<text x="6.60" y="620.90" font-size="14.8" font-weight="bold" fill="#000" textLength="9.1" lengthAdjust="spacingAndGlyphs">E</text>
<line x1="46.90" y1="621.00" x2="46.90" y2="705.10" stroke="#111" stroke-width="1.25"/>
<line x1="46.30" y1="704.50" x2="418.80" y2="704.50" stroke="#111" stroke-width="1.35"/>
<line x1="43.60" y1="697.00" x2="46.90" y2="697.00" stroke="#111" stroke-width="1.2"/>
<text x="40.90" y="699.35" font-size="6.9" text-anchor="end" stroke="#111" stroke-width="0.12">0.0</text>
<line x1="43.60" y1="689.74" x2="46.90" y2="689.74" stroke="#111" stroke-width="1.2"/>
<text x="40.90" y="692.09" font-size="6.9" text-anchor="end" stroke="#111" stroke-width="0.12">0.1</text>
<line x1="43.60" y1="682.48" x2="46.90" y2="682.48" stroke="#111" stroke-width="1.2"/>
<text x="40.90" y="684.83" font-size="6.9" text-anchor="end" stroke="#111" stroke-width="0.12">0.2</text>
<line x1="43.60" y1="675.22" x2="46.90" y2="675.22" stroke="#111" stroke-width="1.2"/>
<text x="40.90" y="677.57" font-size="6.9" text-anchor="end" stroke="#111" stroke-width="0.12">0.3</text>
<line x1="43.60" y1="667.96" x2="46.90" y2="667.96" stroke="#111" stroke-width="1.2"/>
<text x="40.90" y="670.31" font-size="6.9" text-anchor="end" stroke="#111" stroke-width="0.12">0.4</text>
<line x1="43.60" y1="660.70" x2="46.90" y2="660.70" stroke="#111" stroke-width="1.2"/>
<text x="40.90" y="663.05" font-size="6.9" text-anchor="end" stroke="#111" stroke-width="0.12">0.5</text>
<line x1="43.60" y1="653.44" x2="46.90" y2="653.44" stroke="#111" stroke-width="1.2"/>
<text x="40.90" y="655.79" font-size="6.9" text-anchor="end" stroke="#111" stroke-width="0.12">0.6</text>
<line x1="43.60" y1="646.18" x2="46.90" y2="646.18" stroke="#111" stroke-width="1.2"/>
<text x="40.90" y="648.53" font-size="6.9" text-anchor="end" stroke="#111" stroke-width="0.12">0.7</text>
<line x1="43.60" y1="638.92" x2="46.90" y2="638.92" stroke="#111" stroke-width="1.2"/>
<text x="40.90" y="641.27" font-size="6.9" text-anchor="end" stroke="#111" stroke-width="0.12">0.8</text>
<line x1="43.60" y1="631.66" x2="46.90" y2="631.66" stroke="#111" stroke-width="1.2"/>
<text x="40.90" y="634.01" font-size="6.9" text-anchor="end" stroke="#111" stroke-width="0.12">0.9</text>
<line x1="43.60" y1="624.40" x2="46.90" y2="624.40" stroke="#111" stroke-width="1.2"/>
<text x="40.90" y="626.75" font-size="6.9" text-anchor="end" stroke="#111" stroke-width="0.12">1.0</text>
<line x1="53.85" y1="704.50" x2="53.85" y2="707.80" stroke="#111" stroke-width="1.0"/>
<text x="53.85" y="716.50" font-size="6.5" text-anchor="middle" stroke="#111" stroke-width="0.12">0</text>
<line x1="65.92" y1="704.50" x2="65.92" y2="707.80" stroke="#111" stroke-width="1.0"/>
<text x="65.92" y="716.50" font-size="6.5" text-anchor="middle" stroke="#111" stroke-width="0.12">1</text>
<line x1="77.98" y1="704.50" x2="77.98" y2="707.80" stroke="#111" stroke-width="1.0"/>
<text x="77.98" y="716.50" font-size="6.5" text-anchor="middle" stroke="#111" stroke-width="0.12">2</text>
<line x1="90.05" y1="704.50" x2="90.05" y2="707.80" stroke="#111" stroke-width="1.0"/>
<text x="90.05" y="716.50" font-size="6.5" text-anchor="middle" stroke="#111" stroke-width="0.12">3</text>
<line x1="102.11" y1="704.50" x2="102.11" y2="707.80" stroke="#111" stroke-width="1.0"/>
<text x="102.11" y="716.50" font-size="6.5" text-anchor="middle" stroke="#111" stroke-width="0.12">4</text>
<line x1="114.17" y1="704.50" x2="114.17" y2="707.80" stroke="#111" stroke-width="1.0"/>
<text x="114.17" y="716.50" font-size="6.5" text-anchor="middle" stroke="#111" stroke-width="0.12">5</text>
<line x1="126.24" y1="704.50" x2="126.24" y2="707.80" stroke="#111" stroke-width="1.0"/>
<text x="126.24" y="716.50" font-size="6.5" text-anchor="middle" stroke="#111" stroke-width="0.12">6</text>
<line x1="138.31" y1="704.50" x2="138.31" y2="707.80" stroke="#111" stroke-width="1.0"/>
<text x="138.31" y="716.50" font-size="6.5" text-anchor="middle" stroke="#111" stroke-width="0.12">7</text>
<line x1="150.37" y1="704.50" x2="150.37" y2="707.80" stroke="#111" stroke-width="1.0"/>
<text x="150.37" y="716.50" font-size="6.5" text-anchor="middle" stroke="#111" stroke-width="0.12">8</text>
<line x1="162.44" y1="704.50" x2="162.44" y2="707.80" stroke="#111" stroke-width="1.0"/>
<text x="162.44" y="716.50" font-size="6.5" text-anchor="middle" stroke="#111" stroke-width="0.12">9</text>
<line x1="174.50" y1="704.50" x2="174.50" y2="707.80" stroke="#111" stroke-width="1.0"/>
<text x="174.50" y="716.50" font-size="6.5" text-anchor="middle" stroke="#111" stroke-width="0.12">10</text>
<line x1="186.56" y1="704.50" x2="186.56" y2="707.80" stroke="#111" stroke-width="1.0"/>
<text x="186.56" y="716.50" font-size="6.5" text-anchor="middle" stroke="#111" stroke-width="0.12">11</text>
<line x1="198.63" y1="704.50" x2="198.63" y2="707.80" stroke="#111" stroke-width="1.0"/>
<text x="198.63" y="716.50" font-size="6.5" text-anchor="middle" stroke="#111" stroke-width="0.12">12</text>
<line x1="210.69" y1="704.50" x2="210.69" y2="707.80" stroke="#111" stroke-width="1.0"/>
<text x="210.69" y="716.50" font-size="6.5" text-anchor="middle" stroke="#111" stroke-width="0.12">13</text>
<line x1="222.76" y1="704.50" x2="222.76" y2="707.80" stroke="#111" stroke-width="1.0"/>
<text x="222.76" y="716.50" font-size="6.5" text-anchor="middle" stroke="#111" stroke-width="0.12">14</text>
<line x1="234.82" y1="704.50" x2="234.82" y2="707.80" stroke="#111" stroke-width="1.0"/>
<text x="234.82" y="716.50" font-size="6.5" text-anchor="middle" stroke="#111" stroke-width="0.12">15</text>
<line x1="246.89" y1="704.50" x2="246.89" y2="707.80" stroke="#111" stroke-width="1.0"/>
<text x="246.89" y="716.50" font-size="6.5" text-anchor="middle" stroke="#111" stroke-width="0.12">16</text>
<line x1="258.95" y1="704.50" x2="258.95" y2="707.80" stroke="#111" stroke-width="1.0"/>
<text x="258.95" y="716.50" font-size="6.5" text-anchor="middle" stroke="#111" stroke-width="0.12">17</text>
<line x1="271.02" y1="704.50" x2="271.02" y2="707.80" stroke="#111" stroke-width="1.0"/>
<text x="271.02" y="716.50" font-size="6.5" text-anchor="middle" stroke="#111" stroke-width="0.12">18</text>
<line x1="283.08" y1="704.50" x2="283.08" y2="707.80" stroke="#111" stroke-width="1.0"/>
<text x="283.08" y="716.50" font-size="6.5" text-anchor="middle" stroke="#111" stroke-width="0.12">19</text>
<line x1="295.15" y1="704.50" x2="295.15" y2="707.80" stroke="#111" stroke-width="1.0"/>
<text x="295.15" y="716.50" font-size="6.5" text-anchor="middle" stroke="#111" stroke-width="0.12">20</text>
<line x1="307.21" y1="704.50" x2="307.21" y2="707.80" stroke="#111" stroke-width="1.0"/>
<text x="307.21" y="716.50" font-size="6.5" text-anchor="middle" stroke="#111" stroke-width="0.12">21</text>
<line x1="319.28" y1="704.50" x2="319.28" y2="707.80" stroke="#111" stroke-width="1.0"/>
<text x="319.28" y="716.50" font-size="6.5" text-anchor="middle" stroke="#111" stroke-width="0.12">22</text>
<line x1="331.35" y1="704.50" x2="331.35" y2="707.80" stroke="#111" stroke-width="1.0"/>
<text x="331.35" y="716.50" font-size="6.5" text-anchor="middle" stroke="#111" stroke-width="0.12">23</text>
<line x1="343.41" y1="704.50" x2="343.41" y2="707.80" stroke="#111" stroke-width="1.0"/>
<text x="343.41" y="716.50" font-size="6.5" text-anchor="middle" stroke="#111" stroke-width="0.12">24</text>
<line x1="355.48" y1="704.50" x2="355.48" y2="707.80" stroke="#111" stroke-width="1.0"/>
<text x="355.48" y="716.50" font-size="6.5" text-anchor="middle" stroke="#111" stroke-width="0.12">25</text>
<line x1="367.54" y1="704.50" x2="367.54" y2="707.80" stroke="#111" stroke-width="1.0"/>
<text x="367.54" y="716.50" font-size="6.5" text-anchor="middle" stroke="#111" stroke-width="0.12">26</text>
<line x1="379.61" y1="704.50" x2="379.61" y2="707.80" stroke="#111" stroke-width="1.0"/>
<text x="379.61" y="716.50" font-size="6.5" text-anchor="middle" stroke="#111" stroke-width="0.12">27</text>
<line x1="391.67" y1="704.50" x2="391.67" y2="707.80" stroke="#111" stroke-width="1.0"/>
<text x="391.67" y="716.50" font-size="6.5" text-anchor="middle" stroke="#111" stroke-width="0.12">28</text>
<line x1="403.74" y1="704.50" x2="403.74" y2="707.80" stroke="#111" stroke-width="1.0"/>
<text x="403.74" y="716.50" font-size="6.5" text-anchor="middle" stroke="#111" stroke-width="0.12">29</text>
<line x1="415.80" y1="704.50" x2="415.80" y2="707.80" stroke="#111" stroke-width="1.0"/>
<text x="415.80" y="716.50" font-size="6.5" text-anchor="middle" stroke="#111" stroke-width="0.12">30</text>
<text transform="translate(24.9,662.80) rotate(-90)" font-size="8.5" text-anchor="middle" textLength="33.4" lengthAdjust="spacingAndGlyphs">Probability</text>
<text x="210.20" y="729.30" font-size="9" stroke="#111" stroke-width="0.12" textLength="45.3" lengthAdjust="spacingAndGlyphs">Time (months)</text>
<circle cx="51.20" cy="699.10" r="1.6" fill="#fff" stroke="#000" stroke-width="1.0"/>
<text x="56.70" y="701.20" font-size="6.7" stroke="#111" stroke-width="0.12" textLength="28.8" lengthAdjust="spacingAndGlyphs">Censored</text>
<circle cx="353.30" cy="617.20" r="1.7" fill="#fff" stroke="#b8163f" stroke-width="1.15"/>
<text x="358.50" y="619.50" font-size="6.75" stroke="#111" stroke-width="0.12">B-NHL</text>
<text x="382.50" y="619.50" font-size="6.8" stroke="#111" stroke-width="0.12">Median (95% CI) months: 8.25 (6.74, 10.68)</text>
<circle cx="353.30" cy="627.55" r="1.9" fill="#14306e"/>
<text x="358.50" y="629.85" font-size="6.75" stroke="#111" stroke-width="0.12">DLBCL</text>
<text x="382.50" y="629.85" font-size="6.8" stroke="#111" stroke-width="0.12">Median (95% CI) months: 7.46 (5.95, 9.79)</text>
<rect x="351.40" y="636.00" width="3.8" height="3.8" fill="#4f9a22"/>
<text x="358.50" y="640.20" font-size="6.75" stroke="#111" stroke-width="0.12">MCL</text>
<text x="382.50" y="640.20" font-size="6.8" stroke="#111" stroke-width="0.12">Median (95% CI) months: not reached</text>
<path d="M351.30,650.15L353.30,646.75L355.30,650.15Z" fill="#3a0f5a"/>
<text x="358.50" y="650.55" font-size="6.75" stroke="#111" stroke-width="0.12">FL</text>
<text x="382.50" y="650.55" font-size="6.8" stroke="#111" stroke-width="0.12">Median (95% CI) months: not reached</text>
<path d="M60.00,624.90H64.20V628.50H66.50V634.40H85.60V640.20H97.70V644.80H108.60V650.20H123.50V655.20H158.10V660.50H355.90" fill="none" stroke="#6fb050" stroke-width="1.4" stroke-linejoin="miter"/>
<path d="M53.85,624.90H69.30V629.80H94.50V635.70H115.80V640.90H144.20V646.80H317.50" fill="none" stroke="#633d7a" stroke-width="1.4" stroke-linejoin="miter"/>
<path d="M53.85,624.90H56.50V625.30H60.40V626.50H64.00V628.30H68.10V630.30H72.00V631.60H75.80V632.90H80.00V634.00H83.50V634.90H87.00V636.80H91.20V638.80H93.50V640.00H95.80V641.10H98.00V643.00H100.40V644.90H103.50V646.50H106.50V648.00H111.20V649.50H118.80V650.30H120.00V651.90H123.50V654.20H128.00V655.70H133.80V657.20H138.00V659.20H143.10V661.20H148.00V662.70H154.60V664.20H160.00V665.60H166.20V666.90H172.00V667.80H177.70V668.80H183.00V670.00H189.20V671.10H195.00V671.90H200.80V672.70H206.00V673.30H212.30V673.80H236.00V674.40H248.00V675.40H256.00V676.20H382.00" fill="none" stroke="#334f8c" stroke-width="1.4" stroke-linejoin="miter"/>
<path d="M53.85,624.90H56.50V625.30H60.40V626.00H63.00V627.00H65.50V627.80H68.10V629.50H72.00V631.00H75.80V632.60H80.00V633.60H83.50V634.60H87.00V636.00H91.20V638.00H93.50V639.60H95.80V641.10H98.00V642.60H100.40V644.20H103.50V645.40H106.50V646.50H111.20V648.00H118.80V648.80H120.00V650.80H123.50V653.10H128.00V654.30H133.80V655.40H138.00V656.80H143.10V658.20H148.00V659.70H154.60V661.20H160.00V662.30H166.20V663.50H172.00V664.30H177.70V665.10H183.00V666.20H189.20V667.40H195.00V668.30H200.80V669.20H206.00V669.80H212.30V670.40H240.00V671.10H250.00V671.80H258.00V672.40H403.10" fill="none" stroke="#b01c45" stroke-width="1.4" stroke-linejoin="miter"/>
<circle cx="161.50" cy="662.30" r="1.45" fill="#fff" stroke="#ad1740" stroke-width="1.45"/>
<circle cx="166.50" cy="663.50" r="1.45" fill="#fff" stroke="#ad1740" stroke-width="1.45"/>
<circle cx="171.00" cy="663.50" r="1.45" fill="#fff" stroke="#ad1740" stroke-width="1.45"/>
<circle cx="178.00" cy="665.10" r="1.45" fill="#fff" stroke="#ad1740" stroke-width="1.45"/>
<circle cx="181.00" cy="665.10" r="1.45" fill="#fff" stroke="#ad1740" stroke-width="1.45"/>
<circle cx="184.00" cy="666.20" r="1.45" fill="#fff" stroke="#ad1740" stroke-width="1.45"/>
<circle cx="187.00" cy="666.20" r="1.45" fill="#fff" stroke="#ad1740" stroke-width="1.45"/>
<circle cx="195.00" cy="668.30" r="1.45" fill="#fff" stroke="#ad1740" stroke-width="1.45"/>
<circle cx="198.00" cy="668.30" r="1.45" fill="#fff" stroke="#ad1740" stroke-width="1.45"/>
<circle cx="201.00" cy="669.20" r="1.45" fill="#fff" stroke="#ad1740" stroke-width="1.45"/>
<circle cx="204.00" cy="669.20" r="1.45" fill="#fff" stroke="#ad1740" stroke-width="1.45"/>
<circle cx="207.00" cy="669.80" r="1.45" fill="#fff" stroke="#ad1740" stroke-width="1.45"/>
<circle cx="210.50" cy="669.80" r="1.45" fill="#fff" stroke="#ad1740" stroke-width="1.45"/>
<circle cx="213.50" cy="670.40" r="1.45" fill="#fff" stroke="#ad1740" stroke-width="1.45"/>
<circle cx="216.50" cy="670.40" r="1.45" fill="#fff" stroke="#ad1740" stroke-width="1.45"/>
<circle cx="218.50" cy="670.40" r="1.45" fill="#fff" stroke="#ad1740" stroke-width="1.45"/>
<circle cx="225.00" cy="670.40" r="1.45" fill="#fff" stroke="#ad1740" stroke-width="1.45"/>
<circle cx="228.00" cy="670.40" r="1.45" fill="#fff" stroke="#ad1740" stroke-width="1.45"/>
<circle cx="231.00" cy="670.40" r="1.45" fill="#fff" stroke="#ad1740" stroke-width="1.45"/>
<circle cx="234.00" cy="670.40" r="1.45" fill="#fff" stroke="#ad1740" stroke-width="1.45"/>
<circle cx="236.00" cy="670.40" r="1.45" fill="#fff" stroke="#ad1740" stroke-width="1.45"/>
<circle cx="240.00" cy="671.10" r="1.45" fill="#fff" stroke="#ad1740" stroke-width="1.45"/>
<circle cx="243.00" cy="671.10" r="1.45" fill="#fff" stroke="#ad1740" stroke-width="1.45"/>
<circle cx="246.50" cy="671.10" r="1.45" fill="#fff" stroke="#ad1740" stroke-width="1.45"/>
<circle cx="248.50" cy="671.10" r="1.45" fill="#fff" stroke="#ad1740" stroke-width="1.45"/>
<circle cx="254.50" cy="671.80" r="1.45" fill="#fff" stroke="#ad1740" stroke-width="1.45"/>
<circle cx="258.70" cy="672.40" r="1.45" fill="#fff" stroke="#ad1740" stroke-width="1.45"/>
<circle cx="270.50" cy="672.40" r="1.45" fill="#fff" stroke="#ad1740" stroke-width="1.45"/>
<circle cx="286.50" cy="672.40" r="1.45" fill="#fff" stroke="#ad1740" stroke-width="1.45"/>
<circle cx="289.50" cy="672.40" r="1.45" fill="#fff" stroke="#ad1740" stroke-width="1.45"/>
<circle cx="318.50" cy="672.40" r="1.45" fill="#fff" stroke="#ad1740" stroke-width="1.45"/>
<circle cx="355.90" cy="672.40" r="1.45" fill="#fff" stroke="#ad1740" stroke-width="1.45"/>
<circle cx="381.50" cy="672.40" r="1.45" fill="#fff" stroke="#ad1740" stroke-width="1.45"/>
<circle cx="403.10" cy="672.40" r="1.45" fill="#fff" stroke="#ad1740" stroke-width="1.45"/>
<circle cx="161.50" cy="665.60" r="1.75" fill="#1d3878"/>
<circle cx="163.50" cy="665.60" r="1.75" fill="#1d3878"/>
<circle cx="166.50" cy="666.90" r="1.75" fill="#1d3878"/>
<circle cx="169.00" cy="666.90" r="1.75" fill="#1d3878"/>
<circle cx="171.00" cy="666.90" r="1.75" fill="#1d3878"/>
<circle cx="183.00" cy="670.00" r="1.75" fill="#1d3878"/>
<circle cx="185.00" cy="670.00" r="1.75" fill="#1d3878"/>
<circle cx="187.00" cy="670.00" r="1.75" fill="#1d3878"/>
<circle cx="194.00" cy="671.10" r="1.75" fill="#1d3878"/>
<circle cx="196.50" cy="671.90" r="1.75" fill="#1d3878"/>
<circle cx="198.50" cy="671.90" r="1.75" fill="#1d3878"/>
<circle cx="200.50" cy="671.90" r="1.75" fill="#1d3878"/>
<circle cx="202.50" cy="672.70" r="1.75" fill="#1d3878"/>
<circle cx="205.00" cy="672.70" r="1.75" fill="#1d3878"/>
<circle cx="212.00" cy="673.30" r="1.75" fill="#1d3878"/>
<circle cx="214.00" cy="673.80" r="1.75" fill="#1d3878"/>
<circle cx="216.00" cy="673.80" r="1.75" fill="#1d3878"/>
<circle cx="218.50" cy="673.80" r="1.75" fill="#1d3878"/>
<circle cx="226.00" cy="673.80" r="1.75" fill="#1d3878"/>
<circle cx="228.50" cy="673.80" r="1.75" fill="#1d3878"/>
<circle cx="231.00" cy="673.80" r="1.75" fill="#1d3878"/>
<circle cx="233.00" cy="673.80" r="1.75" fill="#1d3878"/>
<circle cx="235.50" cy="673.80" r="1.75" fill="#1d3878"/>
<circle cx="240.00" cy="674.40" r="1.75" fill="#1d3878"/>
<circle cx="243.00" cy="674.40" r="1.75" fill="#1d3878"/>
<circle cx="250.00" cy="675.40" r="1.75" fill="#1d3878"/>
<circle cx="254.00" cy="675.40" r="1.75" fill="#1d3878"/>
<circle cx="256.50" cy="676.20" r="1.75" fill="#1d3878"/>
<circle cx="258.50" cy="676.20" r="1.75" fill="#1d3878"/>
<circle cx="261.00" cy="676.20" r="1.75" fill="#1d3878"/>
<circle cx="266.00" cy="676.20" r="1.75" fill="#1d3878"/>
<circle cx="268.00" cy="676.20" r="1.75" fill="#1d3878"/>
<circle cx="283.50" cy="676.20" r="1.75" fill="#1d3878"/>
<circle cx="289.00" cy="676.20" r="1.75" fill="#1d3878"/>
<circle cx="290.50" cy="676.20" r="1.75" fill="#1d3878"/>
<circle cx="382.00" cy="676.20" r="1.75" fill="#1d3878"/>
<rect x="78.50" y="632.50" width="3.8" height="3.8" fill="#5ea838"/>
<rect x="203.20" y="658.60" width="3.8" height="3.8" fill="#5ea838"/>
<rect x="207.70" y="658.60" width="3.8" height="3.8" fill="#5ea838"/>
<rect x="209.60" y="658.60" width="3.8" height="3.8" fill="#5ea838"/>
<rect x="211.60" y="658.60" width="3.8" height="3.8" fill="#5ea838"/>
<rect x="213.60" y="658.60" width="3.8" height="3.8" fill="#5ea838"/>
<rect x="215.60" y="658.60" width="3.8" height="3.8" fill="#5ea838"/>
<rect x="241.50" y="658.60" width="3.8" height="3.8" fill="#5ea838"/>
<rect x="286.90" y="658.60" width="3.8" height="3.8" fill="#5ea838"/>
<rect x="354.00" y="658.60" width="3.8" height="3.8" fill="#5ea838"/>
<path d="M86.10,631.50L88.10,628.10L90.10,631.50Z" fill="#4b1f6b"/>
<path d="M175.70,648.50L177.70,645.10L179.70,648.50Z" fill="#4b1f6b"/>
<path d="M198.30,648.50L200.30,645.10L202.30,648.50Z" fill="#4b1f6b"/>
<path d="M202.90,648.50L204.90,645.10L206.90,648.50Z" fill="#4b1f6b"/>
<path d="M211.50,648.50L213.50,645.10L215.50,648.50Z" fill="#4b1f6b"/>
<path d="M217.70,648.50L219.70,645.10L221.70,648.50Z" fill="#4b1f6b"/>
<path d="M220.70,648.50L222.70,645.10L224.70,648.50Z" fill="#4b1f6b"/>
<path d="M227.60,648.50L229.60,645.10L231.60,648.50Z" fill="#4b1f6b"/>
<path d="M283.80,648.50L285.80,645.10L287.80,648.50Z" fill="#4b1f6b"/>
<path d="M315.50,648.50L317.50,645.10L319.50,648.50Z" fill="#4b1f6b"/>
<text x="7.40" y="740.50" font-size="7" font-weight="bold" fill="#000">At risk</text>
<text x="7.40" y="751.05" font-size="6.8" stroke="#111" stroke-width="0.12">B-NHL</text>
<text x="53.85" y="751.05" font-size="6.6" text-anchor="middle" stroke="#111" stroke-width="0.12">180</text>
<text x="65.92" y="751.05" font-size="6.6" text-anchor="middle" stroke="#111" stroke-width="0.12">174</text>
<text x="77.98" y="751.05" font-size="6.6" text-anchor="middle" stroke="#111" stroke-width="0.12">162</text>
<text x="90.05" y="751.05" font-size="6.6" text-anchor="middle" stroke="#111" stroke-width="0.12">148</text>
<text x="102.11" y="751.05" font-size="6.6" text-anchor="middle" stroke="#111" stroke-width="0.12">127</text>
<text x="114.17" y="751.05" font-size="6.6" text-anchor="middle" stroke="#111" stroke-width="0.12">118</text>
<text x="126.24" y="751.05" font-size="6.6" text-anchor="middle" stroke="#111" stroke-width="0.12">104</text>
<text x="138.31" y="751.05" font-size="6.6" text-anchor="middle" stroke="#111" stroke-width="0.12">96</text>
<text x="150.37" y="751.05" font-size="6.6" text-anchor="middle" stroke="#111" stroke-width="0.12">89</text>
<text x="162.44" y="751.05" font-size="6.6" text-anchor="middle" stroke="#111" stroke-width="0.12">83</text>
<text x="174.50" y="751.05" font-size="6.6" text-anchor="middle" stroke="#111" stroke-width="0.12">75</text>
<text x="186.56" y="751.05" font-size="6.6" text-anchor="middle" stroke="#111" stroke-width="0.12">68</text>
<text x="198.63" y="751.05" font-size="6.6" text-anchor="middle" stroke="#111" stroke-width="0.12">59</text>
<text x="210.69" y="751.05" font-size="6.6" text-anchor="middle" stroke="#111" stroke-width="0.12">41</text>
<text x="222.76" y="751.05" font-size="6.6" text-anchor="middle" stroke="#111" stroke-width="0.12">28</text>
<text x="234.82" y="751.05" font-size="6.6" text-anchor="middle" stroke="#111" stroke-width="0.12">21</text>
<text x="246.89" y="751.05" font-size="6.6" text-anchor="middle" stroke="#111" stroke-width="0.12">17</text>
<text x="258.95" y="751.05" font-size="6.6" text-anchor="middle" stroke="#111" stroke-width="0.12">12</text>
<text x="271.02" y="751.05" font-size="6.6" text-anchor="middle" stroke="#111" stroke-width="0.12">10</text>
<text x="283.08" y="751.05" font-size="6.6" text-anchor="middle" stroke="#111" stroke-width="0.12">9</text>
<text x="295.15" y="751.05" font-size="6.6" text-anchor="middle" stroke="#111" stroke-width="0.12">4</text>
<text x="307.21" y="751.05" font-size="6.6" text-anchor="middle" stroke="#111" stroke-width="0.12">4</text>
<text x="319.28" y="751.05" font-size="6.6" text-anchor="middle" stroke="#111" stroke-width="0.12">3</text>
<text x="331.35" y="751.05" font-size="6.6" text-anchor="middle" stroke="#111" stroke-width="0.12">3</text>
<text x="343.41" y="751.05" font-size="6.6" text-anchor="middle" stroke="#111" stroke-width="0.12">3</text>
<text x="355.48" y="751.05" font-size="6.6" text-anchor="middle" stroke="#111" stroke-width="0.12">3</text>
<text x="367.54" y="751.05" font-size="6.6" text-anchor="middle" stroke="#111" stroke-width="0.12">2</text>
<text x="379.61" y="751.05" font-size="6.6" text-anchor="middle" stroke="#111" stroke-width="0.12">2</text>
<text x="391.67" y="751.05" font-size="6.6" text-anchor="middle" stroke="#111" stroke-width="0.12">1</text>
<text x="403.74" y="751.05" font-size="6.6" text-anchor="middle" stroke="#111" stroke-width="0.12">1</text>
<text x="415.80" y="751.05" font-size="6.6" text-anchor="middle" stroke="#111" stroke-width="0.12">0</text>
<text x="7.40" y="761.40" font-size="6.8" stroke="#111" stroke-width="0.12">DLBCL</text>
<text x="53.85" y="761.40" font-size="6.6" text-anchor="middle" stroke="#111" stroke-width="0.12">137</text>
<text x="65.92" y="761.40" font-size="6.6" text-anchor="middle" stroke="#111" stroke-width="0.12">133</text>
<text x="77.98" y="761.40" font-size="6.6" text-anchor="middle" stroke="#111" stroke-width="0.12">123</text>
<text x="90.05" y="761.40" font-size="6.6" text-anchor="middle" stroke="#111" stroke-width="0.12">113</text>
<text x="102.11" y="761.40" font-size="6.6" text-anchor="middle" stroke="#111" stroke-width="0.12">97</text>
<text x="114.17" y="761.40" font-size="6.6" text-anchor="middle" stroke="#111" stroke-width="0.12">89</text>
<text x="126.24" y="761.40" font-size="6.6" text-anchor="middle" stroke="#111" stroke-width="0.12">78</text>
<text x="138.31" y="761.40" font-size="6.6" text-anchor="middle" stroke="#111" stroke-width="0.12">71</text>
<text x="150.37" y="761.40" font-size="6.6" text-anchor="middle" stroke="#111" stroke-width="0.12">65</text>
<text x="162.44" y="761.40" font-size="6.6" text-anchor="middle" stroke="#111" stroke-width="0.12">60</text>
<text x="174.50" y="761.40" font-size="6.6" text-anchor="middle" stroke="#111" stroke-width="0.12">52</text>
<text x="186.56" y="761.40" font-size="6.6" text-anchor="middle" stroke="#111" stroke-width="0.12">47</text>
<text x="198.63" y="761.40" font-size="6.6" text-anchor="middle" stroke="#111" stroke-width="0.12">39</text>
<text x="210.69" y="761.40" font-size="6.6" text-anchor="middle" stroke="#111" stroke-width="0.12">27</text>
<text x="222.76" y="761.40" font-size="6.6" text-anchor="middle" stroke="#111" stroke-width="0.12">19</text>
<text x="234.82" y="761.40" font-size="6.6" text-anchor="middle" stroke="#111" stroke-width="0.12">14</text>
<text x="246.89" y="761.40" font-size="6.6" text-anchor="middle" stroke="#111" stroke-width="0.12">11</text>
<text x="258.95" y="761.40" font-size="6.6" text-anchor="middle" stroke="#111" stroke-width="0.12">6</text>
<text x="271.02" y="761.40" font-size="6.6" text-anchor="middle" stroke="#111" stroke-width="0.12">4</text>
<text x="283.08" y="761.40" font-size="6.6" text-anchor="middle" stroke="#111" stroke-width="0.12">3</text>
<text x="295.15" y="761.40" font-size="6.6" text-anchor="middle" stroke="#111" stroke-width="0.12">1</text>
<text x="307.21" y="761.40" font-size="6.6" text-anchor="middle" stroke="#111" stroke-width="0.12">1</text>
<text x="319.28" y="761.40" font-size="6.6" text-anchor="middle" stroke="#111" stroke-width="0.12">1</text>
<text x="331.35" y="761.40" font-size="6.6" text-anchor="middle" stroke="#111" stroke-width="0.12">1</text>
<text x="343.41" y="761.40" font-size="6.6" text-anchor="middle" stroke="#111" stroke-width="0.12">1</text>
<text x="355.48" y="761.40" font-size="6.6" text-anchor="middle" stroke="#111" stroke-width="0.12">1</text>
<text x="367.54" y="761.40" font-size="6.6" text-anchor="middle" stroke="#111" stroke-width="0.12">1</text>
<text x="379.61" y="761.40" font-size="6.6" text-anchor="middle" stroke="#111" stroke-width="0.12">1</text>
<text x="391.67" y="761.40" font-size="6.6" text-anchor="middle" stroke="#111" stroke-width="0.12">0</text>
<text x="7.40" y="771.90" font-size="6.8" stroke="#111" stroke-width="0.12">MCL</text>
<text x="53.85" y="771.90" font-size="6.6" text-anchor="middle" stroke="#111" stroke-width="0.12">15</text>
<text x="65.92" y="771.90" font-size="6.6" text-anchor="middle" stroke="#111" stroke-width="0.12">14</text>
<text x="77.98" y="771.90" font-size="6.6" text-anchor="middle" stroke="#111" stroke-width="0.12">13</text>
<text x="90.05" y="771.90" font-size="6.6" text-anchor="middle" stroke="#111" stroke-width="0.12">11</text>
<text x="102.11" y="771.90" font-size="6.6" text-anchor="middle" stroke="#111" stroke-width="0.12">10</text>
<text x="114.17" y="771.90" font-size="6.6" text-anchor="middle" stroke="#111" stroke-width="0.12">9</text>
<text x="126.24" y="771.90" font-size="6.6" text-anchor="middle" stroke="#111" stroke-width="0.12">8</text>
<text x="138.31" y="771.90" font-size="6.6" text-anchor="middle" stroke="#111" stroke-width="0.12">8</text>
<text x="150.37" y="771.90" font-size="6.6" text-anchor="middle" stroke="#111" stroke-width="0.12">8</text>
<text x="162.44" y="771.90" font-size="6.6" text-anchor="middle" stroke="#111" stroke-width="0.12">7</text>
<text x="174.50" y="771.90" font-size="6.6" text-anchor="middle" stroke="#111" stroke-width="0.12">7</text>
<text x="186.56" y="771.90" font-size="6.6" text-anchor="middle" stroke="#111" stroke-width="0.12">7</text>
<text x="198.63" y="771.90" font-size="6.6" text-anchor="middle" stroke="#111" stroke-width="0.12">7</text>
<text x="210.69" y="771.90" font-size="6.6" text-anchor="middle" stroke="#111" stroke-width="0.12">6</text>
<text x="222.76" y="771.90" font-size="6.6" text-anchor="middle" stroke="#111" stroke-width="0.12">3</text>
<text x="234.82" y="771.90" font-size="6.6" text-anchor="middle" stroke="#111" stroke-width="0.12">3</text>
<text x="246.89" y="771.90" font-size="6.6" text-anchor="middle" stroke="#111" stroke-width="0.12">2</text>
<text x="258.95" y="771.90" font-size="6.6" text-anchor="middle" stroke="#111" stroke-width="0.12">2</text>
<text x="271.02" y="771.90" font-size="6.6" text-anchor="middle" stroke="#111" stroke-width="0.12">2</text>
<text x="283.08" y="771.90" font-size="6.6" text-anchor="middle" stroke="#111" stroke-width="0.12">2</text>
<text x="295.15" y="771.90" font-size="6.6" text-anchor="middle" stroke="#111" stroke-width="0.12">1</text>
<text x="307.21" y="771.90" font-size="6.6" text-anchor="middle" stroke="#111" stroke-width="0.12">1</text>
<text x="319.28" y="771.90" font-size="6.6" text-anchor="middle" stroke="#111" stroke-width="0.12">1</text>
<text x="331.35" y="771.90" font-size="6.6" text-anchor="middle" stroke="#111" stroke-width="0.12">1</text>
<text x="343.41" y="771.90" font-size="6.6" text-anchor="middle" stroke="#111" stroke-width="0.12">1</text>
<text x="355.48" y="771.90" font-size="6.6" text-anchor="middle" stroke="#111" stroke-width="0.12">1</text>
<text x="367.54" y="771.90" font-size="6.6" text-anchor="middle" stroke="#111" stroke-width="0.12">0</text>
<text x="7.40" y="782.50" font-size="6.8" stroke="#111" stroke-width="0.12">FL</text>
<text x="53.85" y="782.50" font-size="6.6" text-anchor="middle" stroke="#111" stroke-width="0.12">14</text>
<text x="65.92" y="782.50" font-size="6.6" text-anchor="middle" stroke="#111" stroke-width="0.12">14</text>
<text x="77.98" y="782.50" font-size="6.6" text-anchor="middle" stroke="#111" stroke-width="0.12">13</text>
<text x="90.05" y="782.50" font-size="6.6" text-anchor="middle" stroke="#111" stroke-width="0.12">13</text>
<text x="102.11" y="782.50" font-size="6.6" text-anchor="middle" stroke="#111" stroke-width="0.12">11</text>
<text x="114.17" y="782.50" font-size="6.6" text-anchor="middle" stroke="#111" stroke-width="0.12">11</text>
<text x="126.24" y="782.50" font-size="6.6" text-anchor="middle" stroke="#111" stroke-width="0.12">10</text>
<text x="138.31" y="782.50" font-size="6.6" text-anchor="middle" stroke="#111" stroke-width="0.12">10</text>
<text x="150.37" y="782.50" font-size="6.6" text-anchor="middle" stroke="#111" stroke-width="0.12">9</text>
<text x="162.44" y="782.50" font-size="6.6" text-anchor="middle" stroke="#111" stroke-width="0.12">9</text>
<text x="174.50" y="782.50" font-size="6.6" text-anchor="middle" stroke="#111" stroke-width="0.12">9</text>
<text x="186.56" y="782.50" font-size="6.6" text-anchor="middle" stroke="#111" stroke-width="0.12">8</text>
<text x="198.63" y="782.50" font-size="6.6" text-anchor="middle" stroke="#111" stroke-width="0.12">8</text>
<text x="210.69" y="782.50" font-size="6.6" text-anchor="middle" stroke="#111" stroke-width="0.12">6</text>
<text x="222.76" y="782.50" font-size="6.6" text-anchor="middle" stroke="#111" stroke-width="0.12">4</text>
<text x="234.82" y="782.50" font-size="6.6" text-anchor="middle" stroke="#111" stroke-width="0.12">2</text>
<text x="246.89" y="782.50" font-size="6.6" text-anchor="middle" stroke="#111" stroke-width="0.12">2</text>
<text x="258.95" y="782.50" font-size="6.6" text-anchor="middle" stroke="#111" stroke-width="0.12">2</text>
<text x="271.02" y="782.50" font-size="6.6" text-anchor="middle" stroke="#111" stroke-width="0.12">2</text>
<text x="283.08" y="782.50" font-size="6.6" text-anchor="middle" stroke="#111" stroke-width="0.12">2</text>
<text x="295.15" y="782.50" font-size="6.6" text-anchor="middle" stroke="#111" stroke-width="0.12">1</text>
<text x="307.21" y="782.50" font-size="6.6" text-anchor="middle" stroke="#111" stroke-width="0.12">1</text>
<text x="319.28" y="782.50" font-size="6.6" text-anchor="middle" stroke="#111" stroke-width="0.12">0</text>
</g>
<rect x="0.6" y="0.6" width="518.8" height="790.8" fill="none" stroke="#000" stroke-width="1.3"/>
</svg></body></html>
